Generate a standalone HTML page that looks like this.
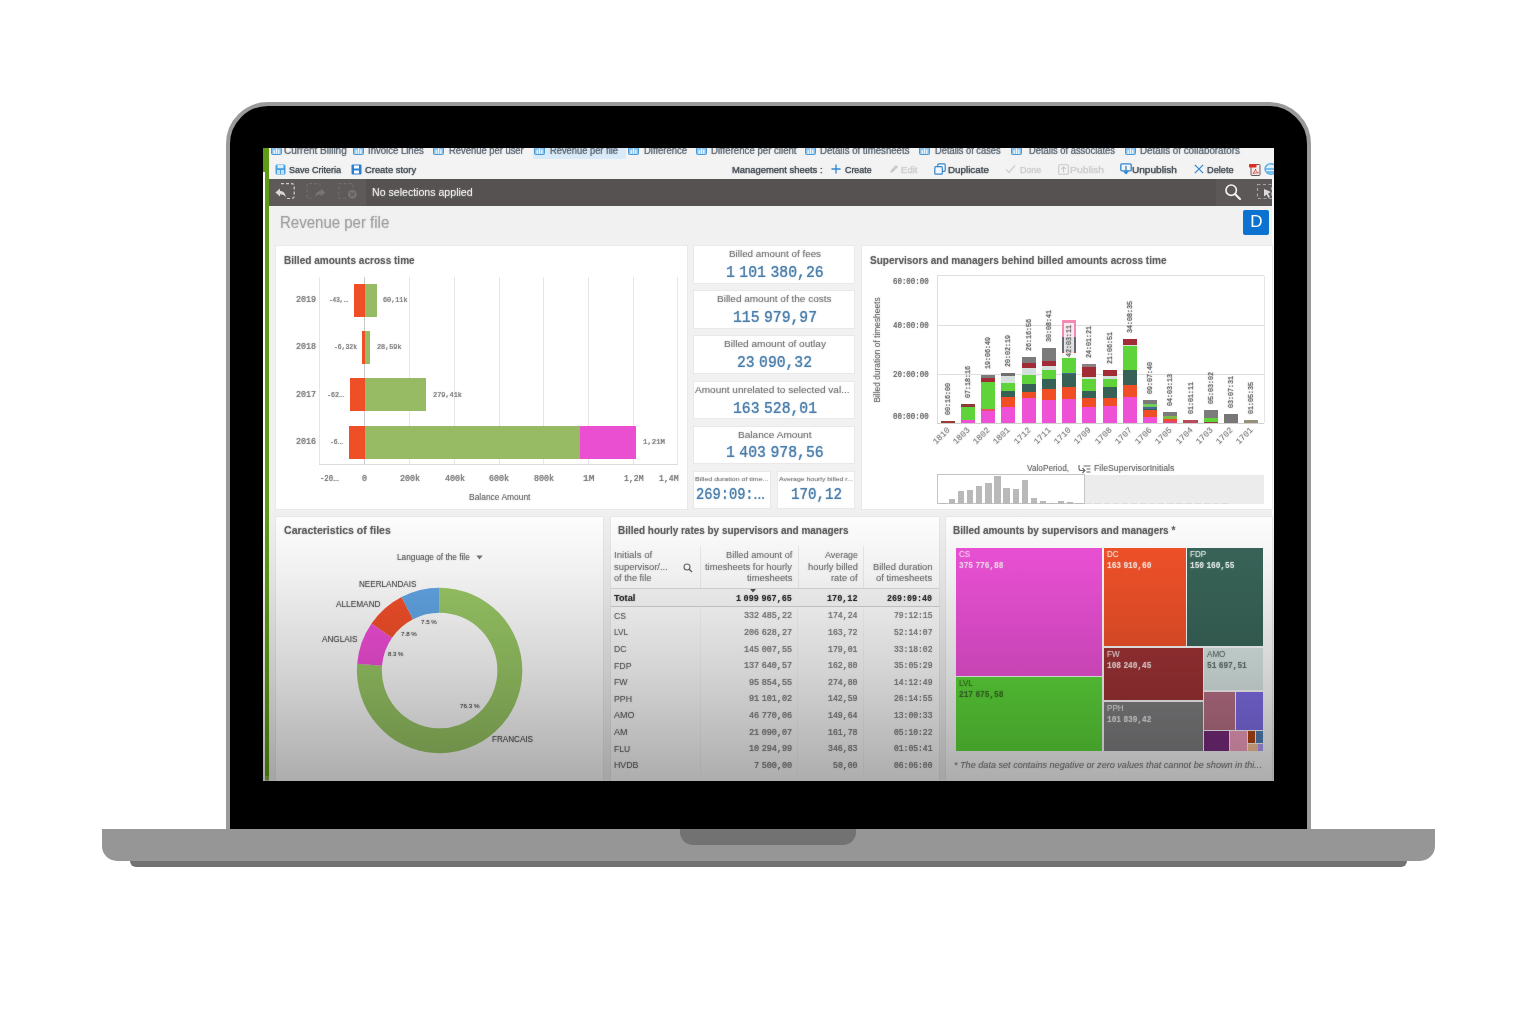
<!DOCTYPE html>
<html lang="en"><head><meta charset="utf-8"><title>Revenue per file</title>
<style>
html,body{margin:0;padding:0;background:#fff;}
body{width:1536px;height:1024px;position:relative;overflow:hidden;font-family:"Liberation Sans",sans-serif;}
#stage div,#stage svg{position:absolute;}
#stage{position:absolute;left:0;top:0;width:1536px;height:1024px;}
.t{font-family:"Liberation Sans",sans-serif;}
.n{font-family:"Liberation Mono","Liberation Sans",monospace;}
</style></head><body><div id="stage">

<!-- laptop -->
<div style="left:226.0px;top:102.0px;width:1084.9px;height:738.0px;background:#000;border:4.3px solid #9a9a9a;border-radius:42px 42px 0 0;box-sizing:border-box;"></div>
<div style="left:130.0px;top:855.0px;width:1277.0px;height:12.0px;background:#727272;border-radius:0 0 6px 6px;"></div>
<div style="left:102.0px;top:828.6px;width:1332.5px;height:32.0px;background:#969696;border-radius:0 0 15px 15px;"></div>
<div style="left:680.3px;top:828.6px;width:176.0px;height:16.1px;background:#727272;border-radius:0 0 13px 13px;"></div>
<!-- screen -->
<div id="screen" style="left:0;top:0;width:1536px;height:1024px;clip-path:inset(148px 262px 243px 263px);">
<div style="left:263.0px;top:148.0px;width:1011.0px;height:633.0px;background:#f1f1f1;"></div>
<div style="left:263.0px;top:148.0px;width:1011.0px;height:30.5px;background:#f3f3f3;"></div>
<div style="left:263.0px;top:148.0px;width:5.9px;height:633.0px;background:#5f9b14;"></div>
<div style="left:263.0px;top:171.8px;width:2.3px;height:609.2px;background:#fbfdf8;"></div>
<div style="left:532.5px;top:148.0px;width:93.0px;height:10.5px;background:#d9ebf8;"></div>
<svg style="left:271px;top:145.6px" width="11" height="9" viewBox="0 0 11 9"><rect x="0.5" y="0.5" width="10" height="8" rx="1" fill="#86c0ec" stroke="#4a9ad8"/><rect x="2.5" y="4" width="1.4" height="4" fill="#eaf5fd"/><rect x="4.8" y="2.5" width="1.4" height="5.5" fill="#eaf5fd"/><rect x="7.1" y="3.5" width="1.4" height="4.5" fill="#eaf5fd"/></svg>
<div class="t" style="left:283.8px;top:144.3px;font-size:10.5px;line-height:12.6px;color:#5f6a76;white-space:nowrap;transform-origin:0 50%;transform:scaleX(0.951);text-shadow:0 0 1.7px rgba(95,106,118,0.55);-webkit-text-stroke:0.2px;">Current Billing</div>
<svg style="left:352.5px;top:145.6px" width="11" height="9" viewBox="0 0 11 9"><rect x="0.5" y="0.5" width="10" height="8" rx="1" fill="#86c0ec" stroke="#4a9ad8"/><rect x="2.5" y="4" width="1.4" height="4" fill="#eaf5fd"/><rect x="4.8" y="2.5" width="1.4" height="5.5" fill="#eaf5fd"/><rect x="7.1" y="3.5" width="1.4" height="4.5" fill="#eaf5fd"/></svg>
<div class="t" style="left:367.6px;top:144.3px;font-size:10.5px;line-height:12.6px;color:#5f6a76;white-space:nowrap;transform-origin:0 50%;transform:scaleX(0.910);text-shadow:0 0 1.7px rgba(95,106,118,0.55);-webkit-text-stroke:0.2px;">Invoice Lines</div>
<svg style="left:432.5px;top:145.6px" width="11" height="9" viewBox="0 0 11 9"><rect x="0.5" y="0.5" width="10" height="8" rx="1" fill="#86c0ec" stroke="#4a9ad8"/><rect x="2.5" y="4" width="1.4" height="4" fill="#eaf5fd"/><rect x="4.8" y="2.5" width="1.4" height="5.5" fill="#eaf5fd"/><rect x="7.1" y="3.5" width="1.4" height="4.5" fill="#eaf5fd"/></svg>
<div class="t" style="left:449.0px;top:144.3px;font-size:10.5px;line-height:12.6px;color:#5f6a76;white-space:nowrap;transform-origin:0 50%;transform:scaleX(0.895);text-shadow:0 0 1.7px rgba(95,106,118,0.55);-webkit-text-stroke:0.2px;">Revenue per user</div>
<svg style="left:533.5px;top:145.6px" width="11" height="9" viewBox="0 0 11 9"><rect x="0.5" y="0.5" width="10" height="8" rx="1" fill="#86c0ec" stroke="#4a9ad8"/><rect x="2.5" y="4" width="1.4" height="4" fill="#eaf5fd"/><rect x="4.8" y="2.5" width="1.4" height="5.5" fill="#eaf5fd"/><rect x="7.1" y="3.5" width="1.4" height="4.5" fill="#eaf5fd"/></svg>
<div class="t" style="left:550.0px;top:144.3px;font-size:10.5px;line-height:12.6px;color:#5f6a76;white-space:nowrap;transform-origin:0 50%;transform:scaleX(0.889);text-shadow:0 0 1.7px rgba(95,106,118,0.55);-webkit-text-stroke:0.2px;">Revenue per file</div>
<svg style="left:628px;top:145.6px" width="11" height="9" viewBox="0 0 11 9"><rect x="0.5" y="0.5" width="10" height="8" rx="1" fill="#86c0ec" stroke="#4a9ad8"/><rect x="2.5" y="4" width="1.4" height="4" fill="#eaf5fd"/><rect x="4.8" y="2.5" width="1.4" height="5.5" fill="#eaf5fd"/><rect x="7.1" y="3.5" width="1.4" height="4.5" fill="#eaf5fd"/></svg>
<div class="t" style="left:643.6px;top:144.3px;font-size:10.5px;line-height:12.6px;color:#5f6a76;white-space:nowrap;transform-origin:0 50%;transform:scaleX(0.902);text-shadow:0 0 1.7px rgba(95,106,118,0.55);-webkit-text-stroke:0.2px;">Difference</div>
<svg style="left:695.5px;top:145.6px" width="11" height="9" viewBox="0 0 11 9"><rect x="0.5" y="0.5" width="10" height="8" rx="1" fill="#86c0ec" stroke="#4a9ad8"/><rect x="2.5" y="4" width="1.4" height="4" fill="#eaf5fd"/><rect x="4.8" y="2.5" width="1.4" height="5.5" fill="#eaf5fd"/><rect x="7.1" y="3.5" width="1.4" height="4.5" fill="#eaf5fd"/></svg>
<div class="t" style="left:711.0px;top:144.3px;font-size:10.5px;line-height:12.6px;color:#5f6a76;white-space:nowrap;transform-origin:0 50%;transform:scaleX(0.918);text-shadow:0 0 1.7px rgba(95,106,118,0.55);-webkit-text-stroke:0.2px;">Difference per client</div>
<svg style="left:804.5px;top:145.6px" width="11" height="9" viewBox="0 0 11 9"><rect x="0.5" y="0.5" width="10" height="8" rx="1" fill="#86c0ec" stroke="#4a9ad8"/><rect x="2.5" y="4" width="1.4" height="4" fill="#eaf5fd"/><rect x="4.8" y="2.5" width="1.4" height="5.5" fill="#eaf5fd"/><rect x="7.1" y="3.5" width="1.4" height="4.5" fill="#eaf5fd"/></svg>
<div class="t" style="left:820.0px;top:144.3px;font-size:10.5px;line-height:12.6px;color:#5f6a76;white-space:nowrap;transform-origin:0 50%;transform:scaleX(0.918);text-shadow:0 0 1.7px rgba(95,106,118,0.55);-webkit-text-stroke:0.2px;">Details of timesheets</div>
<svg style="left:918.5px;top:145.6px" width="11" height="9" viewBox="0 0 11 9"><rect x="0.5" y="0.5" width="10" height="8" rx="1" fill="#86c0ec" stroke="#4a9ad8"/><rect x="2.5" y="4" width="1.4" height="4" fill="#eaf5fd"/><rect x="4.8" y="2.5" width="1.4" height="5.5" fill="#eaf5fd"/><rect x="7.1" y="3.5" width="1.4" height="4.5" fill="#eaf5fd"/></svg>
<div class="t" style="left:935.0px;top:144.3px;font-size:10.5px;line-height:12.6px;color:#5f6a76;white-space:nowrap;transform-origin:0 50%;transform:scaleX(0.885);text-shadow:0 0 1.7px rgba(95,106,118,0.55);-webkit-text-stroke:0.2px;">Details of cases</div>
<svg style="left:1010.5px;top:145.6px" width="11" height="9" viewBox="0 0 11 9"><rect x="0.5" y="0.5" width="10" height="8" rx="1" fill="#86c0ec" stroke="#4a9ad8"/><rect x="2.5" y="4" width="1.4" height="4" fill="#eaf5fd"/><rect x="4.8" y="2.5" width="1.4" height="5.5" fill="#eaf5fd"/><rect x="7.1" y="3.5" width="1.4" height="4.5" fill="#eaf5fd"/></svg>
<div class="t" style="left:1028.7px;top:144.3px;font-size:10.5px;line-height:12.6px;color:#5f6a76;white-space:nowrap;transform-origin:0 50%;transform:scaleX(0.893);text-shadow:0 0 1.7px rgba(95,106,118,0.55);-webkit-text-stroke:0.2px;">Details of associates</div>
<svg style="left:1124.5px;top:145.6px" width="11" height="9" viewBox="0 0 11 9"><rect x="0.5" y="0.5" width="10" height="8" rx="1" fill="#86c0ec" stroke="#4a9ad8"/><rect x="2.5" y="4" width="1.4" height="4" fill="#eaf5fd"/><rect x="4.8" y="2.5" width="1.4" height="5.5" fill="#eaf5fd"/><rect x="7.1" y="3.5" width="1.4" height="4.5" fill="#eaf5fd"/></svg>
<div class="t" style="left:1140.0px;top:144.3px;font-size:10.5px;line-height:12.6px;color:#5f6a76;white-space:nowrap;transform-origin:0 50%;transform:scaleX(0.936);text-shadow:0 0 1.7px rgba(95,106,118,0.55);-webkit-text-stroke:0.2px;">Details of collaborators</div>
<svg style="left:275px;top:163.5px" width="11" height="11" viewBox="0 0 11 11"><rect x="0.5" y="0.5" width="10" height="10" rx="1.5" fill="#4aa0dc"/><rect x="2.5" y="1" width="6" height="3.2" fill="#d6ecfa"/><rect x="2" y="6" width="7" height="4" fill="#bfe0f6"/><rect x="5" y="6" width="1" height="4" fill="#4aa0dc"/></svg>
<div class="t" style="left:289.3px;top:163.7px;font-size:9.5px;line-height:11.4px;color:#444c55;white-space:nowrap;transform-origin:0 50%;transform:scaleX(0.949);text-shadow:0 0 1.7px rgba(68,76,85,0.55);-webkit-text-stroke:0.25px;">Save Criteria</div>
<svg style="left:351px;top:163.5px" width="11" height="11" viewBox="0 0 11 11"><rect x="0.5" y="0.5" width="10" height="10" rx="1" fill="#2b7fd0"/><rect x="3" y="1.5" width="5" height="3" fill="#fff"/><rect x="3" y="6.5" width="5" height="3" fill="#fff"/></svg>
<div class="t" style="left:364.7px;top:163.7px;font-size:9.5px;line-height:11.4px;color:#444c55;white-space:nowrap;transform-origin:0 50%;transform:scaleX(0.988);text-shadow:0 0 1.7px rgba(68,76,85,0.55);-webkit-text-stroke:0.25px;">Create story</div>
<div class="t" style="left:732.2px;top:163.7px;font-size:9.5px;line-height:11.4px;color:#444c55;white-space:nowrap;transform-origin:0 50%;transform:scaleX(0.991);text-shadow:0 0 1.7px rgba(68,76,85,0.55);-webkit-text-stroke:0.25px;">Management sheets :</div>
<svg style="left:830.5px;top:164px" width="10" height="10" viewBox="0 0 10 10"><path d="M5 0.5V9.5M0.5 5H9.5" stroke="#2f86cf" stroke-width="1.3" fill="none"/></svg>
<div class="t" style="left:844.6px;top:163.7px;font-size:9.5px;line-height:11.4px;color:#444c55;white-space:nowrap;transform-origin:0 50%;transform:scaleX(0.933);text-shadow:0 0 1.7px rgba(68,76,85,0.55);-webkit-text-stroke:0.25px;">Create</div>
<svg style="left:888.5px;top:164px" width="10" height="10" viewBox="0 0 10 10"><path d="M1 9L2 6L7 1L9 3L4 8Z" fill="#c9c9c9"/></svg>
<div class="t" style="left:901.4px;top:163.7px;font-size:9.5px;line-height:11.4px;color:#cdcdcd;white-space:nowrap;transform-origin:0 50%;transform:scaleX(1.008);text-shadow:0 0 1.7px rgba(205,205,205,0.55);-webkit-text-stroke:0.25px;">Edit</div>
<svg style="left:934px;top:163px" width="12" height="12" viewBox="0 0 12 12"><rect x="3.7" y="0.8" width="7.5" height="7.5" rx="1" fill="#f6f6f6" stroke="#2f86cf" stroke-width="1.2"/><rect x="0.8" y="3.7" width="7.5" height="7.5" rx="1" fill="#f6f6f6" stroke="#2f86cf" stroke-width="1.2"/></svg>
<div class="t" style="left:947.7px;top:163.7px;font-size:9.5px;line-height:11.4px;color:#444c55;white-space:nowrap;transform-origin:0 50%;transform:scaleX(1.033);text-shadow:0 0 1.7px rgba(68,76,85,0.55);-webkit-text-stroke:0.25px;">Duplicate</div>
<svg style="left:1005px;top:164px" width="11" height="10" viewBox="0 0 11 10"><path d="M1 5.5L4 8.5L10 1.5" stroke="#cfcfcf" stroke-width="1.2" fill="none"/></svg>
<div class="t" style="left:1019.6px;top:163.7px;font-size:9.5px;line-height:11.4px;color:#cdcdcd;white-space:nowrap;transform-origin:0 50%;transform:scaleX(0.929);text-shadow:0 0 1.7px rgba(205,205,205,0.55);-webkit-text-stroke:0.25px;">Done</div>
<svg style="left:1058px;top:163.5px" width="11" height="11" viewBox="0 0 11 11"><rect x="0.7" y="0.7" width="9.6" height="9.6" rx="1" fill="none" stroke="#c9c9c9" stroke-width="1.1"/><path d="M5.5 8.5V3M3.3 5L5.5 2.8L7.7 5" stroke="#c9c9c9" stroke-width="1.1" fill="none"/></svg>
<div class="t" style="left:1069.9px;top:163.7px;font-size:9.5px;line-height:11.4px;color:#cdcdcd;white-space:nowrap;transform-origin:0 50%;transform:scaleX(1.088);text-shadow:0 0 1.7px rgba(205,205,205,0.55);-webkit-text-stroke:0.25px;">Publish</div>
<svg style="left:1120px;top:163px" width="12" height="12" viewBox="0 0 12 12"><rect x="0.8" y="0.8" width="10.4" height="7" rx="1" fill="none" stroke="#2f86cf" stroke-width="1.3"/><path d="M6 3V10.5M3.8 8.3L6 10.6L8.2 8.3" stroke="#2f86cf" stroke-width="1.3" fill="none"/></svg>
<div class="t" style="left:1131.9px;top:163.7px;font-size:9.5px;line-height:11.4px;color:#444c55;white-space:nowrap;transform-origin:0 50%;transform:scaleX(1.060);text-shadow:0 0 1.7px rgba(68,76,85,0.55);-webkit-text-stroke:0.25px;">Unpublish</div>
<svg style="left:1193.5px;top:164px" width="10" height="10" viewBox="0 0 10 10"><path d="M0.8 0.8L9.2 9.2M9.2 0.8L0.8 9.2" stroke="#2f86cf" stroke-width="1.2" fill="none"/></svg>
<div class="t" style="left:1207.3px;top:163.7px;font-size:9.5px;line-height:11.4px;color:#444c55;white-space:nowrap;transform-origin:0 50%;transform:scaleX(0.969);text-shadow:0 0 1.7px rgba(68,76,85,0.55);-webkit-text-stroke:0.25px;">Delete</div>
<svg style="left:1248.5px;top:162.5px" width="12" height="13" viewBox="0 0 12 13"><rect x="2" y="1.5" width="9" height="11" rx="1" fill="#f3e9e9" stroke="#6b5a5a" stroke-width="1"/><rect x="0" y="1" width="7.5" height="3.6" rx="0.8" fill="#e02a22"/><path d="M4 10.5C5.5 8.5 6.5 7 6.5 6C6.5 8 8 9.5 9.5 9.8C7.5 9.6 5.5 10 4 10.5Z" fill="none" stroke="#d6403a" stroke-width="0.8"/></svg>
<svg style="left:1263.5px;top:163px" width="14" height="12" viewBox="0 0 14 12"><ellipse cx="7" cy="6" rx="6" ry="5.2" fill="#dff0fb" stroke="#59aee6" stroke-width="1.5"/><path d="M2 6H13M3 9H13" stroke="#59aee6" stroke-width="1.4"/></svg>
<div style="left:268.9px;top:178.5px;width:1003.4px;height:27.0px;background:#555251;"></div>
<div style="left:268.9px;top:178.5px;width:97.6px;height:27.0px;background:#5d5a59;"></div>
<div style="left:1215.5px;top:178.5px;width:56.8px;height:27.0px;background:#5b5857;"></div>
<div style="left:1272.3px;top:178.5px;width:1.7px;height:602.5px;background:#fbfbfb;"></div>
<svg style="left:270px;top:180px" width="92" height="24" viewBox="270 180 92 24"><path d="M281 183.6H291.5Q294.2 183.6 294.2 186.3V195.8Q294.2 198.5 291.5 198.5H286" fill="none" stroke="#cfcfcf" stroke-width="1.2" stroke-dasharray="3 2"/><path d="M275.4 192.4L280 188.4V190.9C283.6 190.9 285.6 193.2 285.8 197.6C284.6 195.2 283 194.2 280 194.2V196.6Z" fill="#d8d8d8"/><path d="M320 186V183.6H307.2V198.3H313" fill="none" stroke="#726e6d" stroke-width="1.1" stroke-dasharray="3 2.2"/><path d="M325.4 192.4L320.8 188.4V190.9C317.4 190.9 315.4 193.2 315.2 197.4C316.4 195.2 318 194.2 320.8 194.2V196.6Z" fill="#787473"/><path d="M346 198.2H339V183.6H353V188" fill="none" stroke="#726e6d" stroke-width="1.1" stroke-dasharray="3 2.2"/><circle cx="352.4" cy="194.4" r="4.4" fill="#787473"/><path d="M350.4 192.4L354.4 196.4M354.4 192.4L350.4 196.4" stroke="#5d5a59" stroke-width="1.2"/></svg>
<div class="t" style="left:372.0px;top:185.7px;font-size:10.5px;line-height:12.6px;color:#f0f0f0;white-space:nowrap;transform-origin:0 50%;transform:scaleX(1.008);text-shadow:0 0 1.7px rgba(240,240,240,0.55);">No selections applied</div>
<svg style="left:1224px;top:182.5px" width="18" height="18" viewBox="0 0 18 18"><circle cx="7.2" cy="7.2" r="5.2" fill="none" stroke="#f2f2f2" stroke-width="1.7"/><path d="M11 11L16 16" stroke="#f2f2f2" stroke-width="2.2" stroke-linecap="round"/></svg>
<svg style="left:1256px;top:182.5px" width="18" height="18" viewBox="0 0 18 18"><rect x="1.5" y="1.5" width="14" height="14" fill="none" stroke="#a4a2a1" stroke-width="1.2" stroke-dasharray="3 2.5"/><path d="M8 6L15 9L12 10.5L14 14L12.5 15L10.5 11.5L8 13.5Z" fill="#dcdcdc"/></svg>
<div class="t" style="left:280.2px;top:213.0px;font-size:16px;line-height:19.2px;color:#a3a3a3;white-space:nowrap;transform-origin:0 50%;transform:scaleX(0.938);text-shadow:0 0 1.7px rgba(163,163,163,0.55);">Revenue per file</div>
<div style="left:1243.3px;top:209.5px;width:26.0px;height:25.7px;background:#0b72d0;border-radius:2px;"></div>
<div class="t" style="top:212.4px;font-size:17px;line-height:20.4px;color:#fff;font-weight:normal;white-space:nowrap;left:956.3px;width:600px;text-align:center;">D</div>
<!-- panel 1 -->
<div style="left:276.0px;top:246.3px;width:411.0px;height:262.5px;background:#fff;box-shadow:0 0 0 1px #e9e9e9;"></div>
<div class="t" style="left:283.5px;top:254.3px;font-size:10.5px;line-height:12.6px;color:#636363;font-weight:bold;white-space:nowrap;transform-origin:0 50%;transform:scaleX(0.957);text-shadow:0 0 1.7px rgba(99,99,99,0.55);">Billed amounts across time</div>
<div style="left:318.8px;top:276.7px;width:1.0px;height:187.3px;background:#e6e6e6;"></div>
<div style="left:364.1px;top:276.7px;width:1.0px;height:187.3px;background:#e6e6e6;"></div>
<div style="left:409.1px;top:276.7px;width:1.0px;height:187.3px;background:#e6e6e6;"></div>
<div style="left:453.8px;top:276.7px;width:1.0px;height:187.3px;background:#e6e6e6;"></div>
<div style="left:498.8px;top:276.7px;width:1.0px;height:187.3px;background:#e6e6e6;"></div>
<div style="left:543.2px;top:276.7px;width:1.0px;height:187.3px;background:#e6e6e6;"></div>
<div style="left:588.2px;top:276.7px;width:1.0px;height:187.3px;background:#e6e6e6;"></div>
<div style="left:632.5px;top:276.7px;width:1.0px;height:187.3px;background:#e6e6e6;"></div>
<div style="left:677.3px;top:276.7px;width:1.0px;height:187.3px;background:#e6e6e6;"></div>
<div style="left:364.1px;top:276.7px;width:1.0px;height:187.3px;background:#c9c9c9;"></div>
<div style="left:319.3px;top:463.5px;width:358.5px;height:1.0px;background:#dcdcdc;"></div>
<div style="left:354.0px;top:283.6px;width:10.6px;height:33.2px;background:#ee4f27;"></div>
<div style="left:364.6px;top:283.6px;width:12.9px;height:33.2px;background:#97bb64;"></div>
<div style="left:362.3px;top:331.1px;width:2.3px;height:32.7px;background:#ee4f27;"></div>
<div style="left:364.6px;top:331.1px;width:5.7px;height:32.7px;background:#97bb64;"></div>
<div style="left:349.7px;top:378.4px;width:14.9px;height:32.9px;background:#ee4f27;"></div>
<div style="left:364.6px;top:378.4px;width:61.9px;height:32.9px;background:#97bb64;"></div>
<div style="left:348.8px;top:425.7px;width:15.8px;height:32.9px;background:#ee4f27;"></div>
<div style="left:364.6px;top:425.7px;width:215.2px;height:32.9px;background:#97bb64;"></div>
<div style="left:579.8px;top:425.7px;width:56.2px;height:32.9px;background:#ea4fd2;"></div>
<div class="t" style="left:296.4px;top:294.9px;font-size:9px;line-height:10.8px;color:#7c7c7c;font-family:'Liberation Mono',monospace;word-spacing:-0.3em;-webkit-text-stroke:0.22px;white-space:nowrap;transform-origin:0 50%;transform:scaleX(0.926);text-shadow:0 0 1.7px rgba(124,124,124,0.55);">2019</div>
<div class="t" style="left:296.4px;top:342.1px;font-size:9px;line-height:10.8px;color:#7c7c7c;font-family:'Liberation Mono',monospace;word-spacing:-0.3em;-webkit-text-stroke:0.22px;white-space:nowrap;transform-origin:0 50%;transform:scaleX(0.926);text-shadow:0 0 1.7px rgba(124,124,124,0.55);">2018</div>
<div class="t" style="left:296.4px;top:389.7px;font-size:9px;line-height:10.8px;color:#7c7c7c;font-family:'Liberation Mono',monospace;word-spacing:-0.3em;-webkit-text-stroke:0.22px;white-space:nowrap;transform-origin:0 50%;transform:scaleX(0.926);text-shadow:0 0 1.7px rgba(124,124,124,0.55);">2017</div>
<div class="t" style="left:296.4px;top:436.5px;font-size:9px;line-height:10.8px;color:#7c7c7c;font-family:'Liberation Mono',monospace;word-spacing:-0.3em;-webkit-text-stroke:0.22px;white-space:nowrap;transform-origin:0 50%;transform:scaleX(0.926);text-shadow:0 0 1.7px rgba(124,124,124,0.55);">2016</div>
<div class="t" style="left:328.5px;top:296.1px;font-size:7.5px;line-height:9.0px;color:#808080;font-family:'Liberation Mono',monospace;word-spacing:-0.3em;-webkit-text-stroke:0.22px;white-space:nowrap;transform-origin:0 50%;transform:scaleX(0.804);text-shadow:0 0 1.7px rgba(128,128,128,0.55);">-43,<span style="font-family:'Liberation Sans',sans-serif;line-height:0;">...</span></div>
<div class="t" style="left:383.0px;top:296.1px;font-size:7.5px;line-height:9.0px;color:#808080;font-family:'Liberation Mono',monospace;word-spacing:-0.3em;-webkit-text-stroke:0.22px;white-space:nowrap;transform-origin:0 50%;transform:scaleX(0.907);text-shadow:0 0 1.7px rgba(128,128,128,0.55);">60,11k</div>
<div class="t" style="left:334.0px;top:343.1px;font-size:7.5px;line-height:9.0px;color:#808080;font-family:'Liberation Mono',monospace;word-spacing:-0.3em;-webkit-text-stroke:0.22px;white-space:nowrap;transform-origin:0 50%;transform:scaleX(0.852);text-shadow:0 0 1.7px rgba(128,128,128,0.55);">-6,32k</div>
<div class="t" style="left:376.5px;top:343.1px;font-size:7.5px;line-height:9.0px;color:#808080;font-family:'Liberation Mono',monospace;word-spacing:-0.3em;-webkit-text-stroke:0.22px;white-space:nowrap;transform-origin:0 50%;transform:scaleX(0.907);text-shadow:0 0 1.7px rgba(128,128,128,0.55);">28,59k</div>
<div class="t" style="left:326.5px;top:390.9px;font-size:7.5px;line-height:9.0px;color:#808080;font-family:'Liberation Mono',monospace;word-spacing:-0.3em;-webkit-text-stroke:0.22px;white-space:nowrap;transform-origin:0 50%;transform:scaleX(0.886);text-shadow:0 0 1.7px rgba(128,128,128,0.55);">-62<span style="font-family:'Liberation Sans',sans-serif;line-height:0;">...</span></div>
<div class="t" style="left:432.5px;top:390.9px;font-size:7.5px;line-height:9.0px;color:#808080;font-family:'Liberation Mono',monospace;word-spacing:-0.3em;-webkit-text-stroke:0.22px;white-space:nowrap;transform-origin:0 50%;transform:scaleX(0.920);text-shadow:0 0 1.7px rgba(128,128,128,0.55);">279,41k</div>
<div class="t" style="left:330.0px;top:437.6px;font-size:7.5px;line-height:9.0px;color:#808080;font-family:'Liberation Mono',monospace;word-spacing:-0.3em;-webkit-text-stroke:0.22px;white-space:nowrap;transform-origin:0 50%;transform:scaleX(0.852);text-shadow:0 0 1.7px rgba(128,128,128,0.55);">-6<span style="font-family:'Liberation Sans',sans-serif;line-height:0;">...</span></div>
<div class="t" style="left:642.5px;top:437.6px;font-size:7.5px;line-height:9.0px;color:#808080;font-family:'Liberation Mono',monospace;word-spacing:-0.3em;-webkit-text-stroke:0.22px;white-space:nowrap;transform-origin:0 50%;transform:scaleX(0.978);text-shadow:0 0 1.7px rgba(128,128,128,0.55);">1,21M</div>
<div class="t" style="left:319.5px;top:473.6px;font-size:8.5px;line-height:10.2px;color:#7c7c7c;font-family:'Liberation Mono',monospace;word-spacing:-0.3em;-webkit-text-stroke:0.22px;white-space:nowrap;transform-origin:0 50%;transform:scaleX(0.849);text-shadow:0 0 1.7px rgba(124,124,124,0.55);">-20<span style="font-family:'Liberation Sans',sans-serif;line-height:0;">...</span></div>
<div class="t" style="left:362.3px;top:473.6px;font-size:8.5px;line-height:10.2px;color:#7c7c7c;font-family:'Liberation Mono',monospace;word-spacing:-0.3em;-webkit-text-stroke:0.22px;white-space:nowrap;transform-origin:0 50%;transform:scaleX(0.980);text-shadow:0 0 1.7px rgba(124,124,124,0.55);">0</div>
<div class="t" style="left:400.0px;top:473.6px;font-size:8.5px;line-height:10.2px;color:#7c7c7c;font-family:'Liberation Mono',monospace;word-spacing:-0.3em;-webkit-text-stroke:0.22px;white-space:nowrap;transform-origin:0 50%;transform:scaleX(0.980);text-shadow:0 0 1.7px rgba(124,124,124,0.55);">200k</div>
<div class="t" style="left:444.5px;top:473.6px;font-size:8.5px;line-height:10.2px;color:#7c7c7c;font-family:'Liberation Mono',monospace;word-spacing:-0.3em;-webkit-text-stroke:0.22px;white-space:nowrap;transform-origin:0 50%;transform:scaleX(0.980);text-shadow:0 0 1.7px rgba(124,124,124,0.55);">400k</div>
<div class="t" style="left:489.0px;top:473.6px;font-size:8.5px;line-height:10.2px;color:#7c7c7c;font-family:'Liberation Mono',monospace;word-spacing:-0.3em;-webkit-text-stroke:0.22px;white-space:nowrap;transform-origin:0 50%;transform:scaleX(0.980);text-shadow:0 0 1.7px rgba(124,124,124,0.55);">600k</div>
<div class="t" style="left:533.7px;top:473.6px;font-size:8.5px;line-height:10.2px;color:#7c7c7c;font-family:'Liberation Mono',monospace;word-spacing:-0.3em;-webkit-text-stroke:0.22px;white-space:nowrap;transform-origin:0 50%;transform:scaleX(0.980);text-shadow:0 0 1.7px rgba(124,124,124,0.55);">800k</div>
<div class="t" style="left:582.5px;top:473.6px;font-size:8.5px;line-height:10.2px;color:#7c7c7c;font-family:'Liberation Mono',monospace;word-spacing:-0.3em;-webkit-text-stroke:0.22px;white-space:nowrap;transform-origin:0 50%;transform:scaleX(1.127);text-shadow:0 0 1.7px rgba(124,124,124,0.55);">1M</div>
<div class="t" style="left:623.5px;top:473.6px;font-size:8.5px;line-height:10.2px;color:#7c7c7c;font-family:'Liberation Mono',monospace;word-spacing:-0.3em;-webkit-text-stroke:0.22px;white-space:nowrap;transform-origin:0 50%;transform:scaleX(0.956);text-shadow:0 0 1.7px rgba(124,124,124,0.55);">1,2M</div>
<div class="t" style="left:659.0px;top:473.6px;font-size:8.5px;line-height:10.2px;color:#7c7c7c;font-family:'Liberation Mono',monospace;word-spacing:-0.3em;-webkit-text-stroke:0.22px;white-space:nowrap;transform-origin:0 50%;transform:scaleX(0.956);text-shadow:0 0 1.7px rgba(124,124,124,0.55);">1,4M</div>
<div class="t" style="left:468.5px;top:492.4px;font-size:8.5px;line-height:10.2px;color:#6e6e6e;white-space:nowrap;transform-origin:0 50%;transform:scaleX(0.993);text-shadow:0 0 1.7px rgba(110,110,110,0.55);">Balance Amount</div>
<!-- kpis -->
<div style="left:694.2px;top:246.0px;width:160.1px;height:37.2px;background:#fff;box-shadow:0 0 0 1px #e9e9e9;"></div>
<div class="t" style="left:728.5px;top:249.0px;font-size:9px;line-height:10.8px;color:#7a7a7a;white-space:nowrap;transform-origin:0 50%;transform:scaleX(1.095);text-shadow:0 0 1.7px rgba(122,122,122,0.55);">Billed amount of fees</div>
<div class="t" style="left:726.0px;top:262.8px;font-size:17px;line-height:20.4px;color:#4b7eaa;font-family:'Liberation Mono',monospace;word-spacing:-0.3em;-webkit-text-stroke:0.22px;white-space:nowrap;transform-origin:0 50%;transform:scaleX(0.870);text-shadow:0 0 1.7px rgba(75,126,170,0.55);">1 101 380,26</div>
<div style="left:694.2px;top:291.4px;width:160.1px;height:36.7px;background:#fff;box-shadow:0 0 0 1px #e9e9e9;"></div>
<div class="t" style="left:717.0px;top:294.4px;font-size:9px;line-height:10.8px;color:#7a7a7a;white-space:nowrap;transform-origin:0 50%;transform:scaleX(1.111);text-shadow:0 0 1.7px rgba(122,122,122,0.55);">Billed amount of the costs</div>
<div class="t" style="left:732.5px;top:308.2px;font-size:17px;line-height:20.4px;color:#4b7eaa;font-family:'Liberation Mono',monospace;word-spacing:-0.3em;-webkit-text-stroke:0.22px;white-space:nowrap;transform-origin:0 50%;transform:scaleX(0.867);text-shadow:0 0 1.7px rgba(75,126,170,0.55);">115 979,97</div>
<div style="left:694.2px;top:336.3px;width:160.1px;height:37.2px;background:#fff;box-shadow:0 0 0 1px #e9e9e9;"></div>
<div class="t" style="left:723.5px;top:339.3px;font-size:9px;line-height:10.8px;color:#7a7a7a;white-space:nowrap;transform-origin:0 50%;transform:scaleX(1.120);text-shadow:0 0 1.7px rgba(122,122,122,0.55);">Billed amount of outlay</div>
<div class="t" style="left:737.0px;top:353.1px;font-size:17px;line-height:20.4px;color:#4b7eaa;font-family:'Liberation Mono',monospace;word-spacing:-0.3em;-webkit-text-stroke:0.22px;white-space:nowrap;transform-origin:0 50%;transform:scaleX(0.865);text-shadow:0 0 1.7px rgba(75,126,170,0.55);">23 090,32</div>
<div style="left:694.2px;top:381.7px;width:160.1px;height:36.7px;background:#fff;box-shadow:0 0 0 1px #e9e9e9;"></div>
<div class="t" style="left:694.5px;top:384.7px;font-size:9px;line-height:10.8px;color:#7a7a7a;white-space:nowrap;transform-origin:0 50%;transform:scaleX(1.115);text-shadow:0 0 1.7px rgba(122,122,122,0.55);">Amount unrelated to selected val...</div>
<div class="t" style="left:732.5px;top:398.5px;font-size:17px;line-height:20.4px;color:#4b7eaa;font-family:'Liberation Mono',monospace;word-spacing:-0.3em;-webkit-text-stroke:0.22px;white-space:nowrap;transform-origin:0 50%;transform:scaleX(0.867);text-shadow:0 0 1.7px rgba(75,126,170,0.55);">163 528,01</div>
<div style="left:694.2px;top:426.6px;width:160.1px;height:36.4px;background:#fff;box-shadow:0 0 0 1px #e9e9e9;"></div>
<div class="t" style="left:738.0px;top:429.6px;font-size:9px;line-height:10.8px;color:#7a7a7a;white-space:nowrap;transform-origin:0 50%;transform:scaleX(1.121);text-shadow:0 0 1.7px rgba(122,122,122,0.55);">Balance Amount</div>
<div class="t" style="left:726.0px;top:443.4px;font-size:17px;line-height:20.4px;color:#4b7eaa;font-family:'Liberation Mono',monospace;word-spacing:-0.3em;-webkit-text-stroke:0.22px;white-space:nowrap;transform-origin:0 50%;transform:scaleX(0.870);text-shadow:0 0 1.7px rgba(75,126,170,0.55);">1 403 978,56</div>
<div style="left:694.2px;top:472.0px;width:75.5px;height:35.6px;background:#fff;box-shadow:0 0 0 1px #e9e9e9;"></div>
<div class="t" style="left:695.0px;top:476.2px;font-size:5.5px;line-height:6.6px;color:#7a7a7a;white-space:nowrap;transform-origin:0 50%;transform:scaleX(1.279);text-shadow:0 0 1.7px rgba(122,122,122,0.55);">Billed duration of time...</div>
<div class="t" style="left:696.0px;top:486.2px;font-size:16px;line-height:19.2px;color:#4b7eaa;font-family:'Liberation Mono',monospace;word-spacing:-0.3em;-webkit-text-stroke:0.22px;white-space:nowrap;transform-origin:0 50%;transform:scaleX(0.857);text-shadow:0 0 1.7px rgba(75,126,170,0.55);">269:09:<span style="font-family:'Liberation Sans',sans-serif;line-height:0;">...</span></div>
<div style="left:778.0px;top:472.0px;width:76.3px;height:35.6px;background:#fff;box-shadow:0 0 0 1px #e9e9e9;"></div>
<div class="t" style="left:779.0px;top:476.2px;font-size:5.5px;line-height:6.6px;color:#7a7a7a;white-space:nowrap;transform-origin:0 50%;transform:scaleX(1.256);text-shadow:0 0 1.7px rgba(122,122,122,0.55);">Average hourly billed r...</div>
<div class="t" style="left:791.0px;top:486.2px;font-size:16px;line-height:19.2px;color:#4b7eaa;font-family:'Liberation Mono',monospace;word-spacing:-0.3em;-webkit-text-stroke:0.22px;white-space:nowrap;transform-origin:0 50%;transform:scaleX(0.885);text-shadow:0 0 1.7px rgba(75,126,170,0.55);">170,12</div>
<!-- panel 3 -->
<div style="left:862.0px;top:246.3px;width:410.4px;height:262.5px;background:#fff;box-shadow:0 0 0 1px #e9e9e9;"></div>
<div class="t" style="left:869.5px;top:254.3px;font-size:10.5px;line-height:12.6px;color:#636363;font-weight:bold;white-space:nowrap;transform-origin:0 50%;transform:scaleX(0.955);text-shadow:0 0 1.7px rgba(99,99,99,0.55);">Supervisors and managers behind billed amounts across time</div>
<div style="left:937.4px;top:275.3px;width:326.9px;height:1.0px;background:#dedede;"></div>
<div style="left:937.4px;top:324.7px;width:326.9px;height:1.0px;background:#dedede;"></div>
<div style="left:937.4px;top:373.7px;width:326.9px;height:1.0px;background:#dedede;"></div>
<div style="left:936.9px;top:275.8px;width:1.0px;height:147.3px;background:#dedede;"></div>
<div style="left:1263.8px;top:275.8px;width:1.0px;height:147.3px;background:#e6e6e6;"></div>
<div style="left:937.4px;top:422.6px;width:326.9px;height:1.0px;background:#cfcfcf;"></div>
<div class="t" style="left:893.2px;top:276.8px;font-size:8.5px;line-height:10.2px;color:#6e6e6e;font-family:'Liberation Mono',monospace;word-spacing:-0.3em;-webkit-text-stroke:0.22px;white-space:nowrap;transform-origin:0 50%;transform:scaleX(0.872);text-shadow:0 0 1.7px rgba(110,110,110,0.55);">60:00:00</div>
<div class="t" style="left:893.2px;top:320.8px;font-size:8.5px;line-height:10.2px;color:#6e6e6e;font-family:'Liberation Mono',monospace;word-spacing:-0.3em;-webkit-text-stroke:0.22px;white-space:nowrap;transform-origin:0 50%;transform:scaleX(0.872);text-shadow:0 0 1.7px rgba(110,110,110,0.55);">40:00:00</div>
<div class="t" style="left:893.2px;top:369.8px;font-size:8.5px;line-height:10.2px;color:#6e6e6e;font-family:'Liberation Mono',monospace;word-spacing:-0.3em;-webkit-text-stroke:0.22px;white-space:nowrap;transform-origin:0 50%;transform:scaleX(0.872);text-shadow:0 0 1.7px rgba(110,110,110,0.55);">20:00:00</div>
<div class="t" style="left:893.2px;top:412.0px;font-size:8.5px;line-height:10.2px;color:#6e6e6e;font-family:'Liberation Mono',monospace;word-spacing:-0.3em;-webkit-text-stroke:0.22px;white-space:nowrap;transform-origin:0 50%;transform:scaleX(0.872);text-shadow:0 0 1.7px rgba(110,110,110,0.55);">00:00:00</div>
<div class="t" style="left:777.2px;top:343.8px;width:200px;height:12px;line-height:12px;font-size:9px;color:#6e6e6e;text-align:center;white-space:nowrap;text-shadow:0 0 1.7px rgba(110,110,110,0.55);transform:rotate(-90deg) scaleX(0.93);">Billed duration of timesheets</div>
<div style="left:940.6px;top:420.7px;width:14.2px;height:2.4px;background:#9c3b33;"></div>
<div class="t n" style="left:917.7px;top:393.7px;width:60px;height:10px;line-height:10px;font-size:7.5px;color:#6a6a6a;text-align:center;white-space:nowrap;text-shadow:0 0 1.7px rgba(106,106,106,0.7);-webkit-text-stroke:0.2px;transform:rotate(-90deg) scaleX(0.889);">00:16:00</div>
<div class="t n" style="left:908.7px;top:423.8px;width:40px;height:10px;line-height:10px;font-size:8.5px;color:#808080;text-align:right;white-space:nowrap;text-shadow:0 0 1.7px rgba(128,128,128,0.5);transform-origin:100% 50%;transform:rotate(-45deg);">1810</div>
<div style="left:960.8px;top:419.6px;width:14.2px;height:3.5px;background:#ee50d6;"></div>
<div style="left:960.8px;top:407.0px;width:14.2px;height:13.1px;background:#5ed43a;"></div>
<div style="left:960.8px;top:403.8px;width:14.2px;height:3.7px;background:#8f3a37;"></div>
<div class="t n" style="left:937.9px;top:376.8px;width:60px;height:10px;line-height:10px;font-size:7.5px;color:#6a6a6a;text-align:center;white-space:nowrap;text-shadow:0 0 1.7px rgba(106,106,106,0.7);-webkit-text-stroke:0.2px;transform:rotate(-90deg) scaleX(0.889);">07:18:16</div>
<div class="t n" style="left:928.9px;top:423.8px;width:40px;height:10px;line-height:10px;font-size:8.5px;color:#808080;text-align:right;white-space:nowrap;text-shadow:0 0 1.7px rgba(128,128,128,0.5);transform-origin:100% 50%;transform:rotate(-45deg);">1803</div>
<div style="left:981.1px;top:410.5px;width:14.2px;height:12.6px;background:#ee50d6;"></div>
<div style="left:981.1px;top:408.2px;width:14.2px;height:2.8px;background:#e8506a;"></div>
<div style="left:981.1px;top:381.7px;width:14.2px;height:27.0px;background:#5ed43a;"></div>
<div style="left:981.1px;top:381.0px;width:14.2px;height:1.2px;background:#d5e0dc;"></div>
<div style="left:981.1px;top:377.0px;width:14.2px;height:4.5px;background:#a22c35;"></div>
<div style="left:981.1px;top:375.0px;width:14.2px;height:2.5px;background:#7b7b7b;"></div>
<div class="t n" style="left:958.2px;top:348.0px;width:60px;height:10px;line-height:10px;font-size:7.5px;color:#6a6a6a;text-align:center;white-space:nowrap;text-shadow:0 0 1.7px rgba(106,106,106,0.7);-webkit-text-stroke:0.2px;transform:rotate(-90deg) scaleX(0.889);">19:06:49</div>
<div class="t n" style="left:949.2px;top:423.8px;width:40px;height:10px;line-height:10px;font-size:8.5px;color:#808080;text-align:right;white-space:nowrap;text-shadow:0 0 1.7px rgba(128,128,128,0.5);transform-origin:100% 50%;transform:rotate(-45deg);">1802</div>
<div style="left:1001.3px;top:406.3px;width:14.2px;height:16.8px;background:#ee50d6;"></div>
<div style="left:1001.3px;top:396.1px;width:14.2px;height:10.7px;background:#f04e24;"></div>
<div style="left:1001.3px;top:390.6px;width:14.2px;height:6.0px;background:#376156;"></div>
<div style="left:1001.3px;top:382.4px;width:14.2px;height:8.7px;background:#5ed43a;"></div>
<div style="left:1001.3px;top:375.3px;width:14.2px;height:7.6px;background:#d5e0dc;"></div>
<div style="left:1001.3px;top:373.3px;width:14.2px;height:2.5px;background:#6f6f6f;"></div>
<div class="t n" style="left:978.4px;top:346.3px;width:60px;height:10px;line-height:10px;font-size:7.5px;color:#6a6a6a;text-align:center;white-space:nowrap;text-shadow:0 0 1.7px rgba(106,106,106,0.7);-webkit-text-stroke:0.2px;transform:rotate(-90deg) scaleX(0.889);">20:02:19</div>
<div class="t n" style="left:969.4px;top:423.8px;width:40px;height:10px;line-height:10px;font-size:8.5px;color:#808080;text-align:right;white-space:nowrap;text-shadow:0 0 1.7px rgba(128,128,128,0.5);transform-origin:100% 50%;transform:rotate(-45deg);">1801</div>
<div style="left:1021.5px;top:397.3px;width:14.2px;height:25.8px;background:#ee50d6;"></div>
<div style="left:1021.5px;top:391.1px;width:14.2px;height:6.7px;background:#f04e24;"></div>
<div style="left:1021.5px;top:383.8px;width:14.2px;height:7.8px;background:#376156;"></div>
<div style="left:1021.5px;top:374.2px;width:14.2px;height:10.1px;background:#5ed43a;"></div>
<div style="left:1021.5px;top:368.0px;width:14.2px;height:6.7px;background:#d5e0dc;"></div>
<div style="left:1021.5px;top:362.4px;width:14.2px;height:6.1px;background:#a22c35;"></div>
<div style="left:1021.5px;top:357.1px;width:14.2px;height:5.8px;background:#7b7b7b;"></div>
<div class="t n" style="left:998.6px;top:330.1px;width:60px;height:10px;line-height:10px;font-size:7.5px;color:#6a6a6a;text-align:center;white-space:nowrap;text-shadow:0 0 1.7px rgba(106,106,106,0.7);-webkit-text-stroke:0.2px;transform:rotate(-90deg) scaleX(0.889);">26:16:56</div>
<div class="t n" style="left:989.6px;top:423.8px;width:40px;height:10px;line-height:10px;font-size:8.5px;color:#808080;text-align:right;white-space:nowrap;text-shadow:0 0 1.7px rgba(128,128,128,0.5);transform-origin:100% 50%;transform:rotate(-45deg);">1712</div>
<div style="left:1041.8px;top:399.1px;width:14.2px;height:24.0px;background:#ee50d6;"></div>
<div style="left:1041.8px;top:388.8px;width:14.2px;height:10.8px;background:#f04e24;"></div>
<div style="left:1041.8px;top:378.9px;width:14.2px;height:10.4px;background:#376156;"></div>
<div style="left:1041.8px;top:369.5px;width:14.2px;height:9.9px;background:#5ed43a;"></div>
<div style="left:1041.8px;top:366.0px;width:14.2px;height:4.0px;background:#d5e0dc;"></div>
<div style="left:1041.8px;top:360.6px;width:14.2px;height:5.9px;background:#a22c35;"></div>
<div style="left:1041.8px;top:348.3px;width:14.2px;height:12.8px;background:#7b7b7b;"></div>
<div class="t n" style="left:1018.9px;top:321.3px;width:60px;height:10px;line-height:10px;font-size:7.5px;color:#6a6a6a;text-align:center;white-space:nowrap;text-shadow:0 0 1.7px rgba(106,106,106,0.7);-webkit-text-stroke:0.2px;transform:rotate(-90deg) scaleX(0.889);">30:08:41</div>
<div class="t n" style="left:1009.9px;top:423.8px;width:40px;height:10px;line-height:10px;font-size:8.5px;color:#808080;text-align:right;white-space:nowrap;text-shadow:0 0 1.7px rgba(128,128,128,0.5);transform-origin:100% 50%;transform:rotate(-45deg);">1711</div>
<div style="left:1062.0px;top:398.7px;width:14.2px;height:24.4px;background:#ee50d6;"></div>
<div style="left:1062.0px;top:387.0px;width:14.2px;height:12.2px;background:#f04e24;"></div>
<div style="left:1062.0px;top:373.6px;width:14.2px;height:13.9px;background:#376156;"></div>
<div style="left:1062.0px;top:372.7px;width:14.2px;height:1.4px;background:#44689a;"></div>
<div style="left:1062.0px;top:357.0px;width:14.2px;height:16.2px;background:#5ed43a;"></div>
<div style="left:1062.0px;top:352.5px;width:14.2px;height:5.0px;background:#eef8ea;"></div>
<div style="left:1062.0px;top:351.0px;width:14.2px;height:2.0px;background:#c0465a;"></div>
<div style="left:1062.0px;top:336.0px;width:14.2px;height:15.5px;background:#6a6878;"></div>
<div style="left:1062.0px;top:319.5px;width:14.2px;height:17.0px;background:#f08cb4;"></div>
<div style="left:1063.9px;top:323.4px;width:10.4px;height:33.8px;background:rgba(255,255,255,0.82);"></div>
<div class="t n" style="left:1039.1px;top:336.0px;width:60px;height:10px;line-height:10px;font-size:7.5px;color:#6a6a6a;text-align:center;white-space:nowrap;text-shadow:0 0 1.7px rgba(106,106,106,0.7);-webkit-text-stroke:0.2px;transform:rotate(-90deg) scaleX(0.889);">42:03:11</div>
<div class="t n" style="left:1030.1px;top:423.8px;width:40px;height:10px;line-height:10px;font-size:8.5px;color:#808080;text-align:right;white-space:nowrap;text-shadow:0 0 1.7px rgba(128,128,128,0.5);transform-origin:100% 50%;transform:rotate(-45deg);">1710</div>
<div style="left:1082.2px;top:406.1px;width:14.2px;height:17.0px;background:#ee50d6;"></div>
<div style="left:1082.2px;top:397.7px;width:14.2px;height:8.9px;background:#f04e24;"></div>
<div style="left:1082.2px;top:390.6px;width:14.2px;height:7.6px;background:#376156;"></div>
<div style="left:1082.2px;top:378.6px;width:14.2px;height:12.5px;background:#5ed43a;"></div>
<div style="left:1082.2px;top:376.8px;width:14.2px;height:2.3px;background:#d5e0dc;"></div>
<div style="left:1082.2px;top:366.3px;width:14.2px;height:11.0px;background:#a22c35;"></div>
<div style="left:1082.2px;top:363.7px;width:14.2px;height:3.1px;background:#8c7f7f;"></div>
<div class="t n" style="left:1059.3px;top:336.7px;width:60px;height:10px;line-height:10px;font-size:7.5px;color:#6a6a6a;text-align:center;white-space:nowrap;text-shadow:0 0 1.7px rgba(106,106,106,0.7);-webkit-text-stroke:0.2px;transform:rotate(-90deg) scaleX(0.889);">24:01:21</div>
<div class="t n" style="left:1050.3px;top:423.8px;width:40px;height:10px;line-height:10px;font-size:8.5px;color:#808080;text-align:right;white-space:nowrap;text-shadow:0 0 1.7px rgba(128,128,128,0.5);transform-origin:100% 50%;transform:rotate(-45deg);">1709</div>
<div style="left:1102.5px;top:405.5px;width:14.2px;height:17.6px;background:#ee50d6;"></div>
<div style="left:1102.5px;top:397.3px;width:14.2px;height:8.7px;background:#f04e24;"></div>
<div style="left:1102.5px;top:386.8px;width:14.2px;height:11.0px;background:#376156;"></div>
<div style="left:1102.5px;top:378.6px;width:14.2px;height:8.7px;background:#5ed43a;"></div>
<div style="left:1102.5px;top:375.4px;width:14.2px;height:3.7px;background:#d5e0dc;"></div>
<div style="left:1102.5px;top:370.4px;width:14.2px;height:5.5px;background:#a22c35;"></div>
<div class="t n" style="left:1079.6px;top:343.4px;width:60px;height:10px;line-height:10px;font-size:7.5px;color:#6a6a6a;text-align:center;white-space:nowrap;text-shadow:0 0 1.7px rgba(106,106,106,0.7);-webkit-text-stroke:0.2px;transform:rotate(-90deg) scaleX(0.889);">21:06:51</div>
<div class="t n" style="left:1070.6px;top:423.8px;width:40px;height:10px;line-height:10px;font-size:8.5px;color:#808080;text-align:right;white-space:nowrap;text-shadow:0 0 1.7px rgba(128,128,128,0.5);transform-origin:100% 50%;transform:rotate(-45deg);">1708</div>
<div style="left:1122.7px;top:396.7px;width:14.2px;height:26.4px;background:#ee50d6;"></div>
<div style="left:1122.7px;top:384.8px;width:14.2px;height:12.4px;background:#f04e24;"></div>
<div style="left:1122.7px;top:369.2px;width:14.2px;height:16.1px;background:#376156;"></div>
<div style="left:1122.7px;top:345.7px;width:14.2px;height:24.0px;background:#5ed43a;"></div>
<div style="left:1122.7px;top:344.2px;width:14.2px;height:2.0px;background:#d5e0dc;"></div>
<div style="left:1122.7px;top:338.7px;width:14.2px;height:6.0px;background:#a22c35;"></div>
<div class="t n" style="left:1099.8px;top:311.7px;width:60px;height:10px;line-height:10px;font-size:7.5px;color:#6a6a6a;text-align:center;white-space:nowrap;text-shadow:0 0 1.7px rgba(106,106,106,0.7);-webkit-text-stroke:0.2px;transform:rotate(-90deg) scaleX(0.889);">34:08:35</div>
<div class="t n" style="left:1090.8px;top:423.8px;width:40px;height:10px;line-height:10px;font-size:8.5px;color:#808080;text-align:right;white-space:nowrap;text-shadow:0 0 1.7px rgba(128,128,128,0.5);transform-origin:100% 50%;transform:rotate(-45deg);">1707</div>
<div style="left:1143.0px;top:416.4px;width:14.2px;height:6.7px;background:#ee50d6;"></div>
<div style="left:1143.0px;top:409.8px;width:14.2px;height:7.1px;background:#f04e24;"></div>
<div style="left:1143.0px;top:409.0px;width:14.2px;height:1.3px;background:#376156;"></div>
<div style="left:1143.0px;top:406.3px;width:14.2px;height:3.2px;background:#44689a;"></div>
<div style="left:1143.0px;top:403.2px;width:14.2px;height:3.6px;background:#6fcf5a;"></div>
<div style="left:1143.0px;top:399.9px;width:14.2px;height:3.8px;background:#7b7b7b;"></div>
<div class="t n" style="left:1120.0px;top:372.9px;width:60px;height:10px;line-height:10px;font-size:7.5px;color:#6a6a6a;text-align:center;white-space:nowrap;text-shadow:0 0 1.7px rgba(106,106,106,0.7);-webkit-text-stroke:0.2px;transform:rotate(-90deg) scaleX(0.889);">09:07:40</div>
<div class="t n" style="left:1111.0px;top:423.8px;width:40px;height:10px;line-height:10px;font-size:8.5px;color:#808080;text-align:right;white-space:nowrap;text-shadow:0 0 1.7px rgba(128,128,128,0.5);transform-origin:100% 50%;transform:rotate(-45deg);">1706</div>
<div style="left:1163.2px;top:420.2px;width:14.2px;height:2.9px;background:#e0457f;"></div>
<div style="left:1163.2px;top:418.0px;width:14.2px;height:2.7px;background:#f04e24;"></div>
<div style="left:1163.2px;top:416.0px;width:14.2px;height:2.5px;background:#7fb64a;"></div>
<div style="left:1163.2px;top:412.3px;width:14.2px;height:4.2px;background:#7b7b7b;"></div>
<div class="t n" style="left:1140.3px;top:385.3px;width:60px;height:10px;line-height:10px;font-size:7.5px;color:#6a6a6a;text-align:center;white-space:nowrap;text-shadow:0 0 1.7px rgba(106,106,106,0.7);-webkit-text-stroke:0.2px;transform:rotate(-90deg) scaleX(0.889);">04:03:13</div>
<div class="t n" style="left:1131.3px;top:423.8px;width:40px;height:10px;line-height:10px;font-size:8.5px;color:#808080;text-align:right;white-space:nowrap;text-shadow:0 0 1.7px rgba(128,128,128,0.5);transform-origin:100% 50%;transform:rotate(-45deg);">1705</div>
<div style="left:1183.4px;top:419.9px;width:14.2px;height:3.2px;background:#b84a5a;"></div>
<div class="t n" style="left:1160.5px;top:392.9px;width:60px;height:10px;line-height:10px;font-size:7.5px;color:#6a6a6a;text-align:center;white-space:nowrap;text-shadow:0 0 1.7px rgba(106,106,106,0.7);-webkit-text-stroke:0.2px;transform:rotate(-90deg) scaleX(0.889);">01:01:11</div>
<div class="t n" style="left:1151.5px;top:423.8px;width:40px;height:10px;line-height:10px;font-size:8.5px;color:#808080;text-align:right;white-space:nowrap;text-shadow:0 0 1.7px rgba(128,128,128,0.5);transform-origin:100% 50%;transform:rotate(-45deg);">1704</div>
<div style="left:1203.7px;top:421.3px;width:14.2px;height:1.8px;background:#8f3a37;"></div>
<div style="left:1203.7px;top:417.8px;width:14.2px;height:4.0px;background:#5ed43a;"></div>
<div style="left:1203.7px;top:409.8px;width:14.2px;height:8.5px;background:#7b7b7b;"></div>
<div class="t n" style="left:1180.8px;top:382.8px;width:60px;height:10px;line-height:10px;font-size:7.5px;color:#6a6a6a;text-align:center;white-space:nowrap;text-shadow:0 0 1.7px rgba(106,106,106,0.7);-webkit-text-stroke:0.2px;transform:rotate(-90deg) scaleX(0.889);">05:03:02</div>
<div class="t n" style="left:1171.8px;top:423.8px;width:40px;height:10px;line-height:10px;font-size:8.5px;color:#808080;text-align:right;white-space:nowrap;text-shadow:0 0 1.7px rgba(128,128,128,0.5);transform-origin:100% 50%;transform:rotate(-45deg);">1703</div>
<div style="left:1223.9px;top:414.3px;width:14.2px;height:8.8px;background:#787676;"></div>
<div class="t n" style="left:1201.0px;top:387.3px;width:60px;height:10px;line-height:10px;font-size:7.5px;color:#6a6a6a;text-align:center;white-space:nowrap;text-shadow:0 0 1.7px rgba(106,106,106,0.7);-webkit-text-stroke:0.2px;transform:rotate(-90deg) scaleX(0.889);">03:07:31</div>
<div class="t n" style="left:1192.0px;top:423.8px;width:40px;height:10px;line-height:10px;font-size:8.5px;color:#808080;text-align:right;white-space:nowrap;text-shadow:0 0 1.7px rgba(128,128,128,0.5);transform-origin:100% 50%;transform:rotate(-45deg);">1702</div>
<div style="left:1244.1px;top:419.6px;width:14.2px;height:3.5px;background:#98907a;"></div>
<div class="t n" style="left:1221.2px;top:392.6px;width:60px;height:10px;line-height:10px;font-size:7.5px;color:#6a6a6a;text-align:center;white-space:nowrap;text-shadow:0 0 1.7px rgba(106,106,106,0.7);-webkit-text-stroke:0.2px;transform:rotate(-90deg) scaleX(0.889);">01:05:35</div>
<div class="t n" style="left:1212.2px;top:423.8px;width:40px;height:10px;line-height:10px;font-size:8.5px;color:#808080;text-align:right;white-space:nowrap;text-shadow:0 0 1.7px rgba(128,128,128,0.5);transform-origin:100% 50%;transform:rotate(-45deg);">1701</div>
<div class="t" style="left:1027.3px;top:463.4px;font-size:8.5px;line-height:10.2px;color:#6e6e6e;white-space:nowrap;transform-origin:0 50%;transform:scaleX(0.970);text-shadow:0 0 1.7px rgba(110,110,110,0.55);">ValoPeriod,</div>
<svg style="left:1077.5px;top:463.5px" width="13" height="10" viewBox="0 0 13 10"><path d="M1 1V4.5Q1 6.5 3 6.5H6" fill="none" stroke="#666" stroke-width="1.1"/><path d="M4.5 4L7 6.5L4.5 9" fill="none" stroke="#666" stroke-width="1.1"/><path d="M5.5 2H12.5M8.5 5H12.5M8.5 8H12.5" stroke="#666" stroke-width="1.1"/></svg>
<div class="t" style="left:1093.9px;top:463.4px;font-size:8.5px;line-height:10.2px;color:#6e6e6e;white-space:nowrap;transform-origin:0 50%;transform:scaleX(1.025);text-shadow:0 0 1.7px rgba(110,110,110,0.55);">FileSupervisorInitials</div>
<div style="left:1084.8px;top:474.9px;width:179.2px;height:29.0px;background:#ececec;"></div>
<div style="left:936.9px;top:474.4px;width:147.9px;height:29.8px;background:#fff;border:1px solid #c4c4c4;box-sizing:border-box;"></div>
<div style="left:939.7px;top:503.3px;width:6.4px;height:0.3px;background:#b9b9b9;"></div>
<div style="left:948.8px;top:498.9px;width:6.4px;height:4.7px;background:#b9b9b9;"></div>
<div style="left:957.9px;top:490.5px;width:6.4px;height:13.1px;background:#b9b9b9;"></div>
<div style="left:967.0px;top:490.0px;width:6.4px;height:13.6px;background:#b9b9b9;"></div>
<div style="left:976.1px;top:485.8px;width:6.4px;height:17.8px;background:#b9b9b9;"></div>
<div style="left:985.2px;top:483.0px;width:6.4px;height:20.6px;background:#b9b9b9;"></div>
<div style="left:994.3px;top:475.5px;width:6.4px;height:28.1px;background:#b9b9b9;"></div>
<div style="left:1003.4px;top:487.7px;width:6.4px;height:15.9px;background:#b9b9b9;"></div>
<div style="left:1012.5px;top:489.3px;width:6.4px;height:14.3px;background:#b9b9b9;"></div>
<div style="left:1021.6px;top:480.2px;width:6.4px;height:23.4px;background:#b9b9b9;"></div>
<div style="left:1030.7px;top:497.7px;width:6.4px;height:5.9px;background:#b9b9b9;"></div>
<div style="left:1039.8px;top:501.0px;width:6.4px;height:2.6px;background:#b9b9b9;"></div>
<div style="left:1048.9px;top:502.9px;width:6.4px;height:0.7px;background:#b9b9b9;"></div>
<div style="left:1058.0px;top:500.6px;width:6.4px;height:3.0px;background:#b9b9b9;"></div>
<div style="left:1067.1px;top:501.7px;width:6.4px;height:1.9px;background:#b9b9b9;"></div>
<div style="left:1076.2px;top:503.1px;width:6.4px;height:0.5px;background:#b9b9b9;"></div>
<div style="left:1085.3px;top:502.9px;width:6.4px;height:0.8px;background:#dcdcdc;"></div>
<div style="left:1094.4px;top:502.9px;width:6.4px;height:0.8px;background:#dcdcdc;"></div>
<div style="left:1103.5px;top:502.9px;width:6.4px;height:0.8px;background:#dcdcdc;"></div>
<div style="left:1112.6px;top:502.9px;width:6.4px;height:0.8px;background:#dcdcdc;"></div>
<div style="left:1121.7px;top:502.9px;width:6.4px;height:0.8px;background:#dcdcdc;"></div>
<div style="left:1130.8px;top:502.9px;width:6.4px;height:0.8px;background:#dcdcdc;"></div>
<div style="left:1139.9px;top:502.9px;width:6.4px;height:0.8px;background:#dcdcdc;"></div>
<div style="left:1149.0px;top:502.9px;width:6.4px;height:0.8px;background:#dcdcdc;"></div>
<div style="left:1158.1px;top:502.9px;width:6.4px;height:0.8px;background:#dcdcdc;"></div>
<div style="left:1167.2px;top:502.9px;width:6.4px;height:0.8px;background:#dcdcdc;"></div>
<div style="left:1176.3px;top:502.9px;width:6.4px;height:0.8px;background:#dcdcdc;"></div>
<div style="left:1185.4px;top:502.9px;width:6.4px;height:0.8px;background:#dcdcdc;"></div>
<div style="left:1194.5px;top:502.9px;width:6.4px;height:0.8px;background:#dcdcdc;"></div>
<div style="left:1203.6px;top:502.9px;width:6.4px;height:0.8px;background:#dcdcdc;"></div>
<div style="left:1212.7px;top:502.9px;width:6.4px;height:0.8px;background:#dcdcdc;"></div>
<div style="left:1221.8px;top:502.9px;width:6.4px;height:0.8px;background:#dcdcdc;"></div>
<!-- panel 4 -->
<div style="left:276.0px;top:516.8px;width:327.0px;height:273.2px;background:#fff;box-shadow:0 0 0 1px #e9e9e9;"></div>
<div class="t" style="left:283.5px;top:524.2px;font-size:10.5px;line-height:12.6px;color:#636363;font-weight:bold;white-space:nowrap;transform-origin:0 50%;transform:scaleX(1.006);text-shadow:0 0 1.7px rgba(99,99,99,0.55);">Caracteristics of files</div>
<div class="t" style="left:397.2px;top:551.9px;font-size:8.5px;line-height:10.2px;color:#666;white-space:nowrap;transform-origin:0 50%;transform:scaleX(0.975);text-shadow:0 0 1.7px rgba(102,102,102,0.55);">Language of the file</div>
<svg style="left:475.5px;top:554.5px" width="7" height="5" viewBox="0 0 7 5"><path d="M0.3 0.5H6.7L3.5 4.5Z" fill="#777"/></svg>
<svg style="left:350px;top:580px" width="180" height="180" viewBox="0 0 180 180"><path d="M89.60 7.80A82.7 82.7 0 1 1 7.18 83.72L31.99 85.76A57.8 57.8 0 1 0 89.60 32.70Z" fill="#9ac966"/><path d="M7.18 83.72A82.7 82.7 0 0 1 21.53 43.54L42.02 57.68A57.8 57.8 0 0 0 31.99 85.76Z" fill="#f24ed8"/><path d="M21.53 43.54A82.7 82.7 0 0 1 51.54 17.08L63.00 39.18A57.8 57.8 0 0 0 42.02 57.68Z" fill="#f5502a"/><path d="M51.54 17.08A82.7 82.7 0 0 1 89.60 7.80L89.60 32.70A57.8 57.8 0 0 0 63.00 39.18Z" fill="#62a6e6"/></svg>
<div class="t" style="left:359.0px;top:578.8px;font-size:8.5px;line-height:10.2px;color:#5a5a5a;white-space:nowrap;transform-origin:0 50%;transform:scaleX(0.957);text-shadow:0 0 1.7px rgba(90,90,90,0.55);">NEERLANDAIS</div>
<div class="t" style="left:335.7px;top:598.5px;font-size:8.5px;line-height:10.2px;color:#5a5a5a;white-space:nowrap;transform-origin:0 50%;transform:scaleX(0.973);text-shadow:0 0 1.7px rgba(90,90,90,0.55);">ALLEMAND</div>
<div class="t" style="left:321.5px;top:633.5px;font-size:8.5px;line-height:10.2px;color:#5a5a5a;white-space:nowrap;transform-origin:0 50%;transform:scaleX(0.963);text-shadow:0 0 1.7px rgba(90,90,90,0.55);">ANGLAIS</div>
<div class="t" style="left:492.4px;top:733.8px;font-size:8.5px;line-height:10.2px;color:#5a5a5a;white-space:nowrap;transform-origin:0 50%;transform:scaleX(0.954);text-shadow:0 0 1.7px rgba(90,90,90,0.55);">FRANCAIS</div>
<div class="t" style="left:420.7px;top:618.8px;font-size:6px;line-height:7.2px;color:#4a4a4a;white-space:nowrap;transform-origin:0 50%;transform:scaleX(1.036);text-shadow:0 0 1.7px rgba(74,74,74,0.55);">7.5 %</div>
<div class="t" style="left:400.5px;top:631.1px;font-size:6px;line-height:7.2px;color:#4a4a4a;white-space:nowrap;transform-origin:0 50%;transform:scaleX(1.036);text-shadow:0 0 1.7px rgba(74,74,74,0.55);">7.8 %</div>
<div class="t" style="left:388.0px;top:651.1px;font-size:6px;line-height:7.2px;color:#4a4a4a;white-space:nowrap;transform-origin:0 50%;transform:scaleX(1.010);text-shadow:0 0 1.7px rgba(74,74,74,0.55);">8.3 %</div>
<div class="t" style="left:460.4px;top:702.8px;font-size:6px;line-height:7.2px;color:#4a4a4a;white-space:nowrap;transform-origin:0 50%;transform:scaleX(1.049);text-shadow:0 0 1.7px rgba(74,74,74,0.55);">76.3 %</div>
<!-- panel 5 -->
<div style="left:611.0px;top:516.8px;width:328.0px;height:273.2px;background:#fff;box-shadow:0 0 0 1px #e9e9e9;"></div>
<div class="t" style="left:617.8px;top:524.2px;font-size:10.5px;line-height:12.6px;color:#636363;font-weight:bold;white-space:nowrap;transform-origin:0 50%;transform:scaleX(0.947);text-shadow:0 0 1.7px rgba(99,99,99,0.55);">Billed hourly rates by supervisors and managers</div>
<div style="left:699.8px;top:546.0px;width:1.0px;height:61.0px;background:rgba(0,0,0,0.07);"></div>
<div style="left:699.5px;top:607.0px;width:1.0px;height:168.0px;background:rgba(0,0,0,0.035);"></div>
<div style="left:700.5px;top:607.0px;width:1.2px;height:168.0px;background:rgba(255,255,255,0.3);"></div>
<div style="left:797.7px;top:546.0px;width:1.0px;height:61.0px;background:rgba(0,0,0,0.07);"></div>
<div style="left:797.4px;top:607.0px;width:1.0px;height:168.0px;background:rgba(0,0,0,0.035);"></div>
<div style="left:798.4px;top:607.0px;width:1.2px;height:168.0px;background:rgba(255,255,255,0.3);"></div>
<div style="left:863.3px;top:546.0px;width:1.0px;height:61.0px;background:rgba(0,0,0,0.07);"></div>
<div style="left:863.0px;top:607.0px;width:1.0px;height:168.0px;background:rgba(0,0,0,0.035);"></div>
<div style="left:864.0px;top:607.0px;width:1.2px;height:168.0px;background:rgba(255,255,255,0.3);"></div>
<div style="left:611.0px;top:587.5px;width:328.0px;height:1.0px;background:#dcdcdc;"></div>
<div style="left:611.0px;top:606.3px;width:328.0px;height:1.2px;background:#d2d2d2;"></div>
<div style="left:611.0px;top:588.5px;width:328.0px;height:17.8px;background:#fafafa;"></div>
<div class="t" style="left:614.2px;top:550.0px;font-size:8.5px;line-height:10.2px;color:#7a7a7a;white-space:nowrap;transform-origin:0 50%;transform:scaleX(1.142);text-shadow:0 0 1.7px rgba(122,122,122,0.55);">Initials of</div>
<div class="t" style="left:614.2px;top:561.5px;font-size:8.5px;line-height:10.2px;color:#7a7a7a;white-space:nowrap;transform-origin:0 50%;transform:scaleX(1.106);text-shadow:0 0 1.7px rgba(122,122,122,0.55);">supervisor/...</div>
<div class="t" style="left:614.2px;top:572.9px;font-size:8.5px;line-height:10.2px;color:#7a7a7a;white-space:nowrap;transform-origin:0 50%;transform:scaleX(1.081);text-shadow:0 0 1.7px rgba(122,122,122,0.55);">of the file</div>
<div class="t" style="left:725.5px;top:550.0px;font-size:8.5px;line-height:10.2px;color:#7a7a7a;white-space:nowrap;transform-origin:0 50%;transform:scaleX(1.089);text-shadow:0 0 1.7px rgba(122,122,122,0.55);">Billed amount of</div>
<div class="t" style="left:705.0px;top:561.5px;font-size:8.5px;line-height:10.2px;color:#7a7a7a;white-space:nowrap;transform-origin:0 50%;transform:scaleX(1.101);text-shadow:0 0 1.7px rgba(122,122,122,0.55);">timesheets for hourly</div>
<div class="t" style="left:746.5px;top:572.9px;font-size:8.5px;line-height:10.2px;color:#7a7a7a;white-space:nowrap;transform-origin:0 50%;transform:scaleX(1.105);text-shadow:0 0 1.7px rgba(122,122,122,0.55);">timesheets</div>
<div class="t" style="left:824.5px;top:550.0px;font-size:8.5px;line-height:10.2px;color:#7a7a7a;white-space:nowrap;transform-origin:0 50%;transform:scaleX(1.047);text-shadow:0 0 1.7px rgba(122,122,122,0.55);">Average</div>
<div class="t" style="left:807.5px;top:561.5px;font-size:8.5px;line-height:10.2px;color:#7a7a7a;white-space:nowrap;transform-origin:0 50%;transform:scaleX(1.102);text-shadow:0 0 1.7px rgba(122,122,122,0.55);">hourly billed</div>
<div class="t" style="left:831.0px;top:572.9px;font-size:8.5px;line-height:10.2px;color:#7a7a7a;white-space:nowrap;transform-origin:0 50%;transform:scaleX(1.100);text-shadow:0 0 1.7px rgba(122,122,122,0.55);">rate of</div>
<div class="t" style="left:872.5px;top:561.5px;font-size:8.5px;line-height:10.2px;color:#7a7a7a;white-space:nowrap;transform-origin:0 50%;transform:scaleX(1.106);text-shadow:0 0 1.7px rgba(122,122,122,0.55);">Billed duration</div>
<div class="t" style="left:876.0px;top:572.9px;font-size:8.5px;line-height:10.2px;color:#7a7a7a;white-space:nowrap;transform-origin:0 50%;transform:scaleX(1.110);text-shadow:0 0 1.7px rgba(122,122,122,0.55);">of timesheets</div>
<svg style="left:682.5px;top:562.5px" width="10" height="10" viewBox="0 0 10 10"><circle cx="4" cy="4" r="3" fill="none" stroke="#666" stroke-width="1.1"/><path d="M6.2 6.2L9 9" stroke="#666" stroke-width="1.4"/></svg>
<svg style="left:750px;top:588.6px" width="6" height="4" viewBox="0 0 6 4"><path d="M0 0H6L3 3.6Z" fill="#555"/></svg>
<div class="t" style="left:614.2px;top:592.9px;font-size:8.5px;line-height:10.2px;color:#333;font-weight:bold;white-space:nowrap;transform-origin:0 50%;transform:scaleX(1.083);text-shadow:0 0 1.7px rgba(51,51,51,0.55);">Total</div>
<div class="t" style="left:736.0px;top:593.6px;font-size:8.5px;line-height:10.2px;color:#333;font-family:'Liberation Mono',monospace;font-weight:bold;word-spacing:-0.3em;white-space:nowrap;transform-origin:0 50%;transform:scaleX(0.996);text-shadow:0 0 1.7px rgba(51,51,51,0.55);">1 099 967,65</div>
<div class="t" style="left:827.0px;top:593.6px;font-size:8.5px;line-height:10.2px;color:#333;font-family:'Liberation Mono',monospace;font-weight:bold;word-spacing:-0.3em;white-space:nowrap;transform-origin:0 50%;transform:scaleX(0.997);text-shadow:0 0 1.7px rgba(51,51,51,0.55);">170,12</div>
<div class="t" style="left:887.0px;top:593.6px;font-size:8.5px;line-height:10.2px;color:#333;font-family:'Liberation Mono',monospace;font-weight:bold;word-spacing:-0.3em;white-space:nowrap;transform-origin:0 50%;transform:scaleX(0.982);text-shadow:0 0 1.7px rgba(51,51,51,0.55);">269:09:40</div>
<div style="left:611.0px;top:623.7px;width:328.0px;height:0.8px;background:rgba(255,255,255,0.22);"></div>
<div class="t" style="left:614.2px;top:610.7px;font-size:8.5px;line-height:10.2px;color:#6c6c6c;white-space:nowrap;transform-origin:0 50%;transform:scaleX(1.016);text-shadow:0 0 1.7px rgba(108,108,108,0.55);">CS</div>
<div class="t" style="left:743.9px;top:611.4px;font-size:8.5px;line-height:10.2px;color:#848484;font-family:'Liberation Mono',monospace;word-spacing:-0.3em;-webkit-text-stroke:0.22px;white-space:nowrap;transform-origin:0 50%;transform:scaleX(0.991);text-shadow:0 0 1.7px rgba(132,132,132,0.55);">332 485,22</div>
<div class="t" style="left:828.0px;top:611.4px;font-size:8.5px;line-height:10.2px;color:#848484;font-family:'Liberation Mono',monospace;word-spacing:-0.3em;-webkit-text-stroke:0.22px;white-space:nowrap;transform-origin:0 50%;transform:scaleX(0.964);text-shadow:0 0 1.7px rgba(132,132,132,0.55);">174,24</div>
<div class="t" style="left:893.6px;top:611.4px;font-size:8.5px;line-height:10.2px;color:#848484;font-family:'Liberation Mono',monospace;word-spacing:-0.3em;-webkit-text-stroke:0.22px;white-space:nowrap;transform-origin:0 50%;transform:scaleX(0.943);text-shadow:0 0 1.7px rgba(132,132,132,0.55);">79:12:15</div>
<div style="left:611.0px;top:640.3px;width:328.0px;height:0.8px;background:rgba(255,255,255,0.22);"></div>
<div class="t" style="left:614.2px;top:627.3px;font-size:8.5px;line-height:10.2px;color:#6c6c6c;white-space:nowrap;transform-origin:0 50%;transform:scaleX(0.966);text-shadow:0 0 1.7px rgba(108,108,108,0.55);">LVL</div>
<div class="t" style="left:743.9px;top:628.0px;font-size:8.5px;line-height:10.2px;color:#848484;font-family:'Liberation Mono',monospace;word-spacing:-0.3em;-webkit-text-stroke:0.22px;white-space:nowrap;transform-origin:0 50%;transform:scaleX(0.991);text-shadow:0 0 1.7px rgba(132,132,132,0.55);">206 628,27</div>
<div class="t" style="left:828.0px;top:628.0px;font-size:8.5px;line-height:10.2px;color:#848484;font-family:'Liberation Mono',monospace;word-spacing:-0.3em;-webkit-text-stroke:0.22px;white-space:nowrap;transform-origin:0 50%;transform:scaleX(0.964);text-shadow:0 0 1.7px rgba(132,132,132,0.55);">163,72</div>
<div class="t" style="left:893.6px;top:628.0px;font-size:8.5px;line-height:10.2px;color:#848484;font-family:'Liberation Mono',monospace;word-spacing:-0.3em;-webkit-text-stroke:0.22px;white-space:nowrap;transform-origin:0 50%;transform:scaleX(0.943);text-shadow:0 0 1.7px rgba(132,132,132,0.55);">52:14:07</div>
<div style="left:611.0px;top:656.9px;width:328.0px;height:0.8px;background:rgba(255,255,255,0.22);"></div>
<div class="t" style="left:614.2px;top:643.9px;font-size:8.5px;line-height:10.2px;color:#6c6c6c;white-space:nowrap;transform-origin:0 50%;transform:scaleX(1.018);text-shadow:0 0 1.7px rgba(108,108,108,0.55);">DC</div>
<div class="t" style="left:743.9px;top:644.6px;font-size:8.5px;line-height:10.2px;color:#848484;font-family:'Liberation Mono',monospace;word-spacing:-0.3em;-webkit-text-stroke:0.22px;white-space:nowrap;transform-origin:0 50%;transform:scaleX(0.991);text-shadow:0 0 1.7px rgba(132,132,132,0.55);">145 007,55</div>
<div class="t" style="left:828.0px;top:644.6px;font-size:8.5px;line-height:10.2px;color:#848484;font-family:'Liberation Mono',monospace;word-spacing:-0.3em;-webkit-text-stroke:0.22px;white-space:nowrap;transform-origin:0 50%;transform:scaleX(0.964);text-shadow:0 0 1.7px rgba(132,132,132,0.55);">179,01</div>
<div class="t" style="left:893.6px;top:644.6px;font-size:8.5px;line-height:10.2px;color:#848484;font-family:'Liberation Mono',monospace;word-spacing:-0.3em;-webkit-text-stroke:0.22px;white-space:nowrap;transform-origin:0 50%;transform:scaleX(0.943);text-shadow:0 0 1.7px rgba(132,132,132,0.55);">33:18:02</div>
<div style="left:611.0px;top:673.5px;width:328.0px;height:0.8px;background:rgba(255,255,255,0.22);"></div>
<div class="t" style="left:614.2px;top:660.5px;font-size:8.5px;line-height:10.2px;color:#6c6c6c;white-space:nowrap;transform-origin:0 50%;transform:scaleX(1.029);text-shadow:0 0 1.7px rgba(108,108,108,0.55);">FDP</div>
<div class="t" style="left:743.9px;top:661.2px;font-size:8.5px;line-height:10.2px;color:#848484;font-family:'Liberation Mono',monospace;word-spacing:-0.3em;-webkit-text-stroke:0.22px;white-space:nowrap;transform-origin:0 50%;transform:scaleX(0.991);text-shadow:0 0 1.7px rgba(132,132,132,0.55);">137 640,57</div>
<div class="t" style="left:828.0px;top:661.2px;font-size:8.5px;line-height:10.2px;color:#848484;font-family:'Liberation Mono',monospace;word-spacing:-0.3em;-webkit-text-stroke:0.22px;white-space:nowrap;transform-origin:0 50%;transform:scaleX(0.964);text-shadow:0 0 1.7px rgba(132,132,132,0.55);">162,80</div>
<div class="t" style="left:893.6px;top:661.2px;font-size:8.5px;line-height:10.2px;color:#848484;font-family:'Liberation Mono',monospace;word-spacing:-0.3em;-webkit-text-stroke:0.22px;white-space:nowrap;transform-origin:0 50%;transform:scaleX(0.943);text-shadow:0 0 1.7px rgba(132,132,132,0.55);">35:05:29</div>
<div style="left:611.0px;top:690.1px;width:328.0px;height:0.8px;background:rgba(255,255,255,0.22);"></div>
<div class="t" style="left:614.2px;top:677.1px;font-size:8.5px;line-height:10.2px;color:#6c6c6c;white-space:nowrap;transform-origin:0 50%;transform:scaleX(1.022);text-shadow:0 0 1.7px rgba(108,108,108,0.55);">FW</div>
<div class="t" style="left:748.7px;top:677.8px;font-size:8.5px;line-height:10.2px;color:#848484;font-family:'Liberation Mono',monospace;word-spacing:-0.3em;-webkit-text-stroke:0.22px;white-space:nowrap;transform-origin:0 50%;transform:scaleX(0.996);text-shadow:0 0 1.7px rgba(132,132,132,0.55);">95 854,55</div>
<div class="t" style="left:828.0px;top:677.8px;font-size:8.5px;line-height:10.2px;color:#848484;font-family:'Liberation Mono',monospace;word-spacing:-0.3em;-webkit-text-stroke:0.22px;white-space:nowrap;transform-origin:0 50%;transform:scaleX(0.964);text-shadow:0 0 1.7px rgba(132,132,132,0.55);">274,80</div>
<div class="t" style="left:893.6px;top:677.8px;font-size:8.5px;line-height:10.2px;color:#848484;font-family:'Liberation Mono',monospace;word-spacing:-0.3em;-webkit-text-stroke:0.22px;white-space:nowrap;transform-origin:0 50%;transform:scaleX(0.943);text-shadow:0 0 1.7px rgba(132,132,132,0.55);">14:12:49</div>
<div style="left:611.0px;top:706.7px;width:328.0px;height:0.8px;background:rgba(255,255,255,0.22);"></div>
<div class="t" style="left:614.2px;top:693.7px;font-size:8.5px;line-height:10.2px;color:#6c6c6c;white-space:nowrap;transform-origin:0 50%;transform:scaleX(1.030);text-shadow:0 0 1.7px rgba(108,108,108,0.55);">PPH</div>
<div class="t" style="left:748.7px;top:694.4px;font-size:8.5px;line-height:10.2px;color:#848484;font-family:'Liberation Mono',monospace;word-spacing:-0.3em;-webkit-text-stroke:0.22px;white-space:nowrap;transform-origin:0 50%;transform:scaleX(0.996);text-shadow:0 0 1.7px rgba(132,132,132,0.55);">91 101,02</div>
<div class="t" style="left:828.0px;top:694.4px;font-size:8.5px;line-height:10.2px;color:#848484;font-family:'Liberation Mono',monospace;word-spacing:-0.3em;-webkit-text-stroke:0.22px;white-space:nowrap;transform-origin:0 50%;transform:scaleX(0.964);text-shadow:0 0 1.7px rgba(132,132,132,0.55);">142,59</div>
<div class="t" style="left:893.6px;top:694.4px;font-size:8.5px;line-height:10.2px;color:#848484;font-family:'Liberation Mono',monospace;word-spacing:-0.3em;-webkit-text-stroke:0.22px;white-space:nowrap;transform-origin:0 50%;transform:scaleX(0.943);text-shadow:0 0 1.7px rgba(132,132,132,0.55);">26:14:55</div>
<div style="left:611.0px;top:723.3px;width:328.0px;height:0.8px;background:rgba(255,255,255,0.22);"></div>
<div class="t" style="left:614.2px;top:710.3px;font-size:8.5px;line-height:10.2px;color:#6c6c6c;white-space:nowrap;transform-origin:0 50%;transform:scaleX(1.059);text-shadow:0 0 1.7px rgba(108,108,108,0.55);">AMO</div>
<div class="t" style="left:748.7px;top:711.0px;font-size:8.5px;line-height:10.2px;color:#848484;font-family:'Liberation Mono',monospace;word-spacing:-0.3em;-webkit-text-stroke:0.22px;white-space:nowrap;transform-origin:0 50%;transform:scaleX(0.996);text-shadow:0 0 1.7px rgba(132,132,132,0.55);">46 770,06</div>
<div class="t" style="left:828.0px;top:711.0px;font-size:8.5px;line-height:10.2px;color:#848484;font-family:'Liberation Mono',monospace;word-spacing:-0.3em;-webkit-text-stroke:0.22px;white-space:nowrap;transform-origin:0 50%;transform:scaleX(0.964);text-shadow:0 0 1.7px rgba(132,132,132,0.55);">149,64</div>
<div class="t" style="left:893.6px;top:711.0px;font-size:8.5px;line-height:10.2px;color:#848484;font-family:'Liberation Mono',monospace;word-spacing:-0.3em;-webkit-text-stroke:0.22px;white-space:nowrap;transform-origin:0 50%;transform:scaleX(0.943);text-shadow:0 0 1.7px rgba(132,132,132,0.55);">13:00:33</div>
<div style="left:611.0px;top:739.9px;width:328.0px;height:0.8px;background:rgba(255,255,255,0.22);"></div>
<div class="t" style="left:614.2px;top:726.9px;font-size:8.5px;line-height:10.2px;color:#6c6c6c;white-space:nowrap;transform-origin:0 50%;transform:scaleX(1.059);text-shadow:0 0 1.7px rgba(108,108,108,0.55);">AM</div>
<div class="t" style="left:748.7px;top:727.6px;font-size:8.5px;line-height:10.2px;color:#848484;font-family:'Liberation Mono',monospace;word-spacing:-0.3em;-webkit-text-stroke:0.22px;white-space:nowrap;transform-origin:0 50%;transform:scaleX(0.996);text-shadow:0 0 1.7px rgba(132,132,132,0.55);">21 090,07</div>
<div class="t" style="left:828.0px;top:727.6px;font-size:8.5px;line-height:10.2px;color:#848484;font-family:'Liberation Mono',monospace;word-spacing:-0.3em;-webkit-text-stroke:0.22px;white-space:nowrap;transform-origin:0 50%;transform:scaleX(0.964);text-shadow:0 0 1.7px rgba(132,132,132,0.55);">161,78</div>
<div class="t" style="left:893.6px;top:727.6px;font-size:8.5px;line-height:10.2px;color:#848484;font-family:'Liberation Mono',monospace;word-spacing:-0.3em;-webkit-text-stroke:0.22px;white-space:nowrap;transform-origin:0 50%;transform:scaleX(0.943);text-shadow:0 0 1.7px rgba(132,132,132,0.55);">05:10:22</div>
<div style="left:611.0px;top:756.5px;width:328.0px;height:0.8px;background:rgba(255,255,255,0.22);"></div>
<div class="t" style="left:614.2px;top:743.5px;font-size:8.5px;line-height:10.2px;color:#6c6c6c;white-space:nowrap;transform-origin:0 50%;transform:scaleX(0.996);text-shadow:0 0 1.7px rgba(108,108,108,0.55);">FLU</div>
<div class="t" style="left:748.7px;top:744.2px;font-size:8.5px;line-height:10.2px;color:#848484;font-family:'Liberation Mono',monospace;word-spacing:-0.3em;-webkit-text-stroke:0.22px;white-space:nowrap;transform-origin:0 50%;transform:scaleX(0.996);text-shadow:0 0 1.7px rgba(132,132,132,0.55);">10 294,99</div>
<div class="t" style="left:828.0px;top:744.2px;font-size:8.5px;line-height:10.2px;color:#848484;font-family:'Liberation Mono',monospace;word-spacing:-0.3em;-webkit-text-stroke:0.22px;white-space:nowrap;transform-origin:0 50%;transform:scaleX(0.964);text-shadow:0 0 1.7px rgba(132,132,132,0.55);">346,83</div>
<div class="t" style="left:893.6px;top:744.2px;font-size:8.5px;line-height:10.2px;color:#848484;font-family:'Liberation Mono',monospace;word-spacing:-0.3em;-webkit-text-stroke:0.22px;white-space:nowrap;transform-origin:0 50%;transform:scaleX(0.943);text-shadow:0 0 1.7px rgba(132,132,132,0.55);">01:05:41</div>
<div style="left:611.0px;top:773.1px;width:328.0px;height:0.8px;background:rgba(255,255,255,0.22);"></div>
<div class="t" style="left:614.2px;top:760.1px;font-size:8.5px;line-height:10.2px;color:#6c6c6c;white-space:nowrap;transform-origin:0 50%;transform:scaleX(1.037);text-shadow:0 0 1.7px rgba(108,108,108,0.55);">HVDB</div>
<div class="t" style="left:753.7px;top:760.8px;font-size:8.5px;line-height:10.2px;color:#848484;font-family:'Liberation Mono',monospace;word-spacing:-0.3em;-webkit-text-stroke:0.22px;white-space:nowrap;transform-origin:0 50%;transform:scaleX(0.999);text-shadow:0 0 1.7px rgba(132,132,132,0.55);">7 500,00</div>
<div class="t" style="left:833.0px;top:760.8px;font-size:8.5px;line-height:10.2px;color:#848484;font-family:'Liberation Mono',monospace;word-spacing:-0.3em;-webkit-text-stroke:0.22px;white-space:nowrap;transform-origin:0 50%;transform:scaleX(0.961);text-shadow:0 0 1.7px rgba(132,132,132,0.55);">50,00</div>
<div class="t" style="left:893.6px;top:760.8px;font-size:8.5px;line-height:10.2px;color:#848484;font-family:'Liberation Mono',monospace;word-spacing:-0.3em;-webkit-text-stroke:0.22px;white-space:nowrap;transform-origin:0 50%;transform:scaleX(0.943);text-shadow:0 0 1.7px rgba(132,132,132,0.55);">06:06:00</div>
<!-- panel 6 -->
<div style="left:946.0px;top:516.8px;width:326.4px;height:273.2px;background:#fff;box-shadow:0 0 0 1px #e9e9e9;"></div>
<div class="t" style="left:953.2px;top:524.2px;font-size:10.5px;line-height:12.6px;color:#636363;font-weight:bold;white-space:nowrap;transform-origin:0 50%;transform:scaleX(0.950);text-shadow:0 0 1.7px rgba(99,99,99,0.55);">Billed amounts by supervisors and managers *</div>
<div style="left:956.0px;top:548.3px;width:146.3px;height:128.0px;background:#f052da;"></div>
<div class="t" style="left:959.0px;top:549.4px;font-size:8.5px;line-height:10.2px;color:#f6d6f0;white-space:nowrap;transform-origin:0 50%;transform:scaleX(0.950);text-shadow:0 0 1.7px rgba(246,214,240,0.55);">CS</div>
<div class="t" style="left:959.0px;top:561.1px;font-size:8.5px;line-height:10.2px;color:#f6d6f0;font-family:'Liberation Mono',monospace;font-weight:bold;word-spacing:-0.3em;white-space:nowrap;transform-origin:0 50%;transform:scaleX(0.918);text-shadow:0 0 1.7px rgba(246,214,240,0.55);">375 776,88</div>
<div style="left:956.0px;top:677.0px;width:146.3px;height:74.4px;background:#5fdc3b;"></div>
<div class="t" style="left:959.0px;top:678.1px;font-size:8.5px;line-height:10.2px;color:#3d7a28;white-space:nowrap;transform-origin:0 50%;transform:scaleX(0.950);text-shadow:0 0 1.7px rgba(61,122,40,0.55);">LVL</div>
<div class="t" style="left:959.0px;top:689.8px;font-size:8.5px;line-height:10.2px;color:#3d7a28;font-family:'Liberation Mono',monospace;font-weight:bold;word-spacing:-0.3em;white-space:nowrap;transform-origin:0 50%;transform:scaleX(0.918);text-shadow:0 0 1.7px rgba(61,122,40,0.55);">217 675,58</div>
<div style="left:1103.5px;top:548.3px;width:82.8px;height:97.8px;background:#f5532a;"></div>
<div class="t" style="left:1106.5px;top:549.4px;font-size:8.5px;line-height:10.2px;color:#fbe0d8;white-space:nowrap;transform-origin:0 50%;transform:scaleX(0.950);text-shadow:0 0 1.7px rgba(251,224,216,0.55);">DC</div>
<div class="t" style="left:1106.5px;top:561.1px;font-size:8.5px;line-height:10.2px;color:#fbe0d8;font-family:'Liberation Mono',monospace;font-weight:bold;word-spacing:-0.3em;white-space:nowrap;transform-origin:0 50%;transform:scaleX(0.918);text-shadow:0 0 1.7px rgba(251,224,216,0.55);">163 910,60</div>
<div style="left:1187.2px;top:548.3px;width:75.5px;height:97.8px;background:#3a665a;"></div>
<div class="t" style="left:1190.2px;top:549.4px;font-size:8.5px;line-height:10.2px;color:#e0ebe8;white-space:nowrap;transform-origin:0 50%;transform:scaleX(0.950);text-shadow:0 0 1.7px rgba(224,235,232,0.55);">FDP</div>
<div class="t" style="left:1190.2px;top:561.1px;font-size:8.5px;line-height:10.2px;color:#e0ebe8;font-family:'Liberation Mono',monospace;font-weight:bold;word-spacing:-0.3em;white-space:nowrap;transform-origin:0 50%;transform:scaleX(0.918);text-shadow:0 0 1.7px rgba(224,235,232,0.55);">150 160,55</div>
<div style="left:1103.5px;top:647.9px;width:99.4px;height:52.4px;background:#a13336;"></div>
<div class="t" style="left:1106.5px;top:649.0px;font-size:8.5px;line-height:10.2px;color:#f0d8d8;white-space:nowrap;transform-origin:0 50%;transform:scaleX(0.950);text-shadow:0 0 1.7px rgba(240,216,216,0.55);">FW</div>
<div class="t" style="left:1106.5px;top:660.7px;font-size:8.5px;line-height:10.2px;color:#f0d8d8;font-family:'Liberation Mono',monospace;font-weight:bold;word-spacing:-0.3em;white-space:nowrap;transform-origin:0 50%;transform:scaleX(0.918);text-shadow:0 0 1.7px rgba(240,216,216,0.55);">108 240,45</div>
<div style="left:1103.5px;top:701.7px;width:99.4px;height:49.7px;background:#838385;"></div>
<div class="t" style="left:1106.5px;top:702.8px;font-size:8.5px;line-height:10.2px;color:#e2e2e2;white-space:nowrap;transform-origin:0 50%;transform:scaleX(0.950);text-shadow:0 0 1.7px rgba(226,226,226,0.55);">PPH</div>
<div class="t" style="left:1106.5px;top:714.5px;font-size:8.5px;line-height:10.2px;color:#e2e2e2;font-family:'Liberation Mono',monospace;font-weight:bold;word-spacing:-0.3em;white-space:nowrap;transform-origin:0 50%;transform:scaleX(0.918);text-shadow:0 0 1.7px rgba(226,226,226,0.55);">101 839,42</div>
<div style="left:1204.1px;top:647.9px;width:58.6px;height:42.6px;background:#dceae8;"></div>
<div class="t" style="left:1207.1px;top:649.0px;font-size:8.5px;line-height:10.2px;color:#6a7a76;white-space:nowrap;transform-origin:0 50%;transform:scaleX(0.950);text-shadow:0 0 1.7px rgba(106,122,118,0.55);">AMO</div>
<div class="t" style="left:1207.1px;top:660.7px;font-size:8.5px;line-height:10.2px;color:#6a7a76;font-family:'Liberation Mono',monospace;font-weight:bold;word-spacing:-0.3em;white-space:nowrap;transform-origin:0 50%;transform:scaleX(0.918);text-shadow:0 0 1.7px rgba(106,122,118,0.55);">51 697,51</div>
<div style="left:1204.1px;top:691.7px;width:30.7px;height:38.0px;background:#bc7389;"></div>
<div style="left:1236.0px;top:691.7px;width:26.7px;height:38.0px;background:#816fea;"></div>
<div style="left:1204.1px;top:731.2px;width:24.8px;height:20.2px;background:#7b2d80;"></div>
<div style="left:1230.0px;top:731.2px;width:17.2px;height:20.2px;background:#f6a3c3;"></div>
<div style="left:1247.8px;top:731.2px;width:7.5px;height:11.8px;background:#b84715;"></div>
<div style="left:1255.9px;top:731.2px;width:6.8px;height:11.8px;background:#5483bb;"></div>
<div style="left:1247.8px;top:743.5px;width:9.8px;height:7.9px;background:#ffc89b;"></div>
<div style="left:1258.1px;top:743.5px;width:4.6px;height:7.9px;background:#b5a0ff;"></div>
<div class="t" style="left:954.0px;top:759.9px;font-size:8.5px;line-height:10.2px;color:#858585;font-style:italic;white-space:nowrap;transform-origin:0 50%;transform:scaleX(1.070);text-shadow:0 0 1.7px rgba(133,133,133,0.55);">* The data set contains negative or zero values that cannot be shown in thi...</div>
<div style="left:263.0px;top:776.0px;width:1011.0px;height:5.0px;background:rgba(255,255,255,0.2);"></div>
<div style="left:263.0px;top:779.8px;width:1011.0px;height:1.2px;background:rgba(255,255,255,0.45);"></div>
<div style="left:263px;top:505px;width:1011px;height:276px;background:linear-gradient(to bottom,rgba(0,0,0,0) 0%,rgba(0,0,0,0.06) 25%,rgba(0,0,0,0.17) 60%,rgba(0,0,0,0.32) 100%);"></div>
</div>
</div></body></html>
